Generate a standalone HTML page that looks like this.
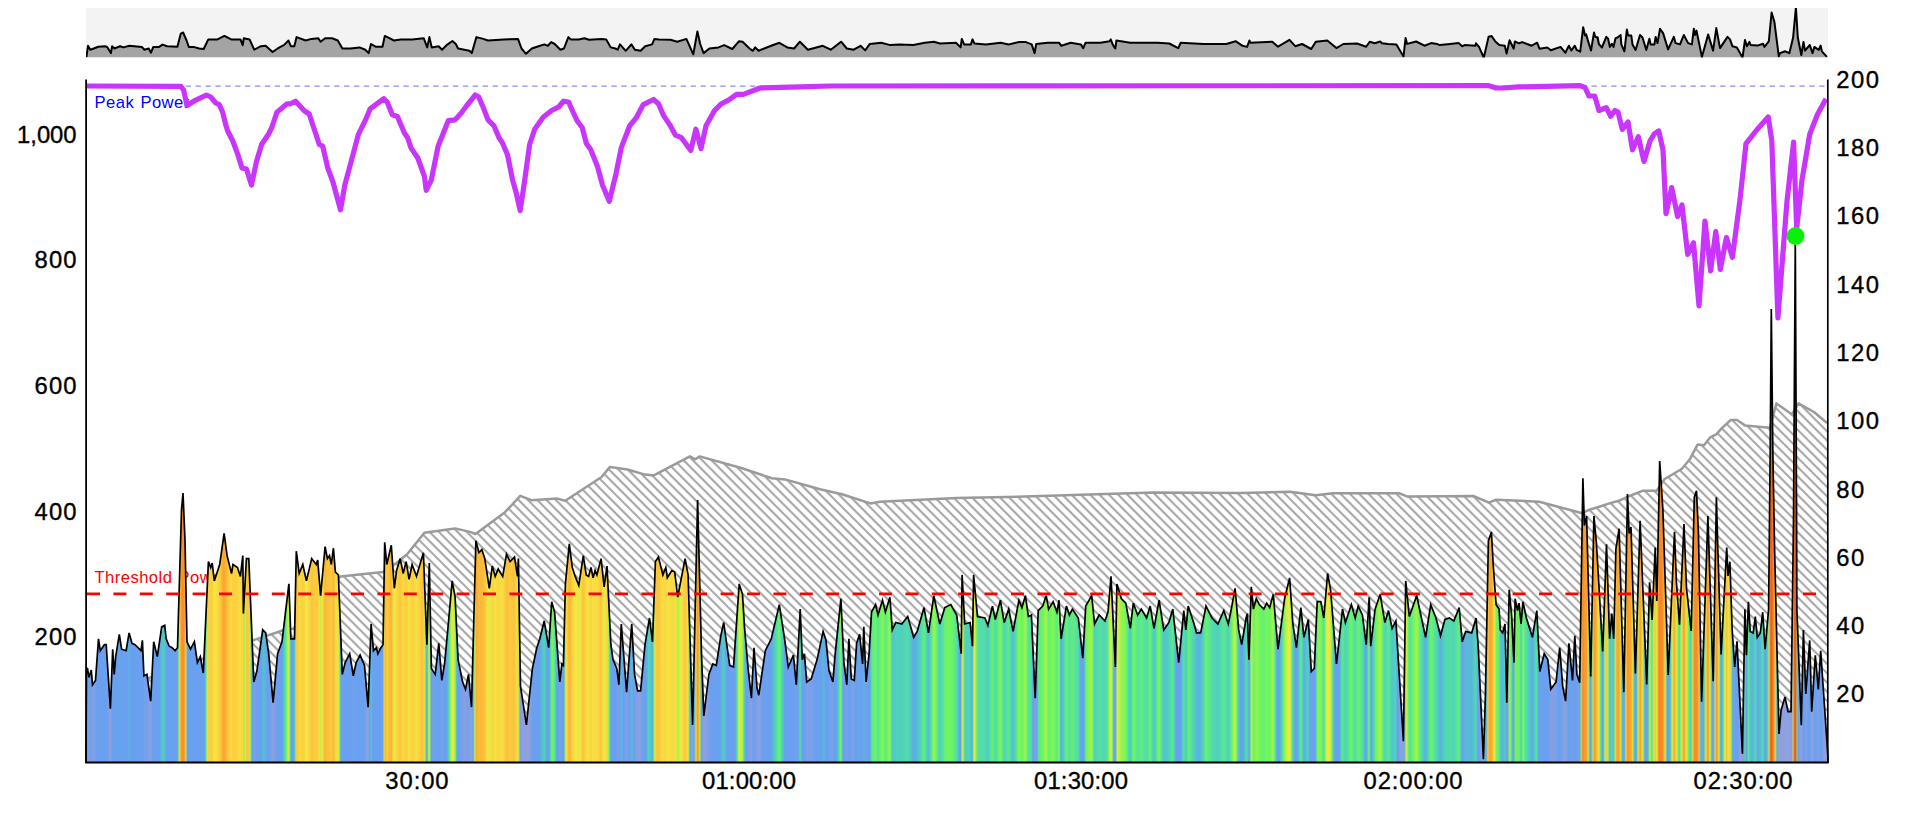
<!DOCTYPE html><html><head><meta charset="utf-8"><style>html,body{margin:0;padding:0;background:#fff;overflow:hidden}svg{display:block}text{font-family:"Liberation Sans",sans-serif}</style></head><body><svg width="1920" height="825" viewBox="0 0 1920 825">
<defs>
<linearGradient id="pg" gradientUnits="userSpaceOnUse" x1="86" y1="0" x2="1828" y2="0"><stop offset="0.0000" stop-color="#96a0d7"/><stop offset="0.0006" stop-color="#6ba0f0"/><stop offset="0.0011" stop-color="#70a0ee"/><stop offset="0.0017" stop-color="#77a0ea"/><stop offset="0.0023" stop-color="#73a0ec"/><stop offset="0.0029" stop-color="#6fa0ee"/><stop offset="0.0034" stop-color="#79a0ea"/><stop offset="0.0040" stop-color="#80a0e6"/><stop offset="0.0046" stop-color="#7ea0e7"/><stop offset="0.0052" stop-color="#7ca0e8"/><stop offset="0.0057" stop-color="#72a0ed"/><stop offset="0.0063" stop-color="#6aa0f0"/><stop offset="0.0069" stop-color="#69a0f0"/><stop offset="0.0075" stop-color="#68a0f0"/><stop offset="0.0080" stop-color="#69a0f0"/><stop offset="0.0086" stop-color="#69a0f0"/><stop offset="0.0092" stop-color="#69a0f0"/><stop offset="0.0098" stop-color="#69a0f0"/><stop offset="0.0103" stop-color="#69a0f0"/><stop offset="0.0109" stop-color="#69a0f0"/><stop offset="0.0115" stop-color="#69a0f0"/><stop offset="0.0121" stop-color="#6aa0f0"/><stop offset="0.0126" stop-color="#70a0ee"/><stop offset="0.0132" stop-color="#84a0e5"/><stop offset="0.0138" stop-color="#8da0e0"/><stop offset="0.0144" stop-color="#8ca0e1"/><stop offset="0.0149" stop-color="#6ba0f0"/><stop offset="0.0155" stop-color="#6aa0f0"/><stop offset="0.0161" stop-color="#6fa0ee"/><stop offset="0.0166" stop-color="#6ba0f0"/><stop offset="0.0172" stop-color="#6aa0f0"/><stop offset="0.0178" stop-color="#69a0f0"/><stop offset="0.0184" stop-color="#68a0f0"/><stop offset="0.0189" stop-color="#61abe5"/><stop offset="0.0195" stop-color="#66a3ed"/><stop offset="0.0201" stop-color="#69a0f0"/><stop offset="0.0207" stop-color="#69a0f0"/><stop offset="0.0212" stop-color="#69a0f0"/><stop offset="0.0218" stop-color="#69a0f0"/><stop offset="0.0224" stop-color="#69a0f0"/><stop offset="0.0230" stop-color="#69a0f0"/><stop offset="0.0235" stop-color="#69a0f0"/><stop offset="0.0241" stop-color="#68a1ef"/><stop offset="0.0247" stop-color="#5cb4dc"/><stop offset="0.0253" stop-color="#61abe5"/><stop offset="0.0258" stop-color="#68a0f0"/><stop offset="0.0264" stop-color="#68a0f0"/><stop offset="0.0270" stop-color="#68a0f0"/><stop offset="0.0276" stop-color="#68a0f0"/><stop offset="0.0281" stop-color="#69a0f0"/><stop offset="0.0287" stop-color="#69a0f0"/><stop offset="0.0293" stop-color="#69a0f0"/><stop offset="0.0299" stop-color="#69a0f0"/><stop offset="0.0304" stop-color="#69a0f0"/><stop offset="0.0310" stop-color="#69a0f0"/><stop offset="0.0316" stop-color="#69a0f0"/><stop offset="0.0321" stop-color="#68a0f0"/><stop offset="0.0327" stop-color="#6aa0f0"/><stop offset="0.0333" stop-color="#75a0eb"/><stop offset="0.0339" stop-color="#75a0ec"/><stop offset="0.0344" stop-color="#74a0ec"/><stop offset="0.0350" stop-color="#74a0ec"/><stop offset="0.0356" stop-color="#7ea0e8"/><stop offset="0.0362" stop-color="#87a0e3"/><stop offset="0.0367" stop-color="#8ca0e1"/><stop offset="0.0373" stop-color="#8ca0e1"/><stop offset="0.0379" stop-color="#75a0ec"/><stop offset="0.0385" stop-color="#6aa0f0"/><stop offset="0.0390" stop-color="#68a0f0"/><stop offset="0.0396" stop-color="#69a0f0"/><stop offset="0.0402" stop-color="#69a0f0"/><stop offset="0.0408" stop-color="#6aa0f0"/><stop offset="0.0413" stop-color="#69a0f0"/><stop offset="0.0419" stop-color="#69a0f0"/><stop offset="0.0425" stop-color="#66a4ec"/><stop offset="0.0431" stop-color="#59b9d7"/><stop offset="0.0436" stop-color="#50c9c7"/><stop offset="0.0442" stop-color="#50cac5"/><stop offset="0.0448" stop-color="#50cbc4"/><stop offset="0.0454" stop-color="#52c5cb"/><stop offset="0.0459" stop-color="#63a8e8"/><stop offset="0.0465" stop-color="#68a0f0"/><stop offset="0.0471" stop-color="#68a0f0"/><stop offset="0.0476" stop-color="#69a0f0"/><stop offset="0.0482" stop-color="#69a0f0"/><stop offset="0.0488" stop-color="#69a0f0"/><stop offset="0.0494" stop-color="#69a0f0"/><stop offset="0.0499" stop-color="#69a0f0"/><stop offset="0.0505" stop-color="#69a0f0"/><stop offset="0.0511" stop-color="#69a0f0"/><stop offset="0.0517" stop-color="#69a0f0"/><stop offset="0.0522" stop-color="#69a0f0"/><stop offset="0.0528" stop-color="#57bdd3"/><stop offset="0.0534" stop-color="#a7f24c"/><stop offset="0.0540" stop-color="#fcc93e"/><stop offset="0.0545" stop-color="#f8a12f"/><stop offset="0.0551" stop-color="#f8912b"/><stop offset="0.0557" stop-color="#f88a2a"/><stop offset="0.0563" stop-color="#f8992d"/><stop offset="0.0568" stop-color="#f8ab32"/><stop offset="0.0574" stop-color="#c5ef46"/><stop offset="0.0580" stop-color="#68a0f0"/><stop offset="0.0586" stop-color="#68a0f0"/><stop offset="0.0591" stop-color="#69a0f0"/><stop offset="0.0597" stop-color="#69a0f0"/><stop offset="0.0603" stop-color="#69a0f0"/><stop offset="0.0608" stop-color="#69a0f0"/><stop offset="0.0614" stop-color="#69a0f0"/><stop offset="0.0620" stop-color="#68a0f0"/><stop offset="0.0626" stop-color="#69a0f0"/><stop offset="0.0631" stop-color="#69a0f0"/><stop offset="0.0637" stop-color="#6aa0f0"/><stop offset="0.0643" stop-color="#6aa0f0"/><stop offset="0.0649" stop-color="#6aa0f0"/><stop offset="0.0654" stop-color="#6aa0f0"/><stop offset="0.0660" stop-color="#6aa0f0"/><stop offset="0.0666" stop-color="#6ba0f0"/><stop offset="0.0672" stop-color="#6fa0ee"/><stop offset="0.0677" stop-color="#6aa0f0"/><stop offset="0.0683" stop-color="#61ace4"/><stop offset="0.0689" stop-color="#55e39d"/><stop offset="0.0695" stop-color="#bff046"/><stop offset="0.0700" stop-color="#f9d841"/><stop offset="0.0706" stop-color="#fccc3f"/><stop offset="0.0712" stop-color="#fbd040"/><stop offset="0.0718" stop-color="#fbd140"/><stop offset="0.0723" stop-color="#fccc40"/><stop offset="0.0729" stop-color="#f9d741"/><stop offset="0.0735" stop-color="#f6e642"/><stop offset="0.0741" stop-color="#f5e642"/><stop offset="0.0746" stop-color="#f7e141"/><stop offset="0.0752" stop-color="#f8dc41"/><stop offset="0.0758" stop-color="#fad741"/><stop offset="0.0763" stop-color="#fbd140"/><stop offset="0.0769" stop-color="#fcca3f"/><stop offset="0.0775" stop-color="#fac03a"/><stop offset="0.0781" stop-color="#f9b536"/><stop offset="0.0786" stop-color="#f8ab32"/><stop offset="0.0792" stop-color="#f8a631"/><stop offset="0.0798" stop-color="#f8ab32"/><stop offset="0.0804" stop-color="#f9b435"/><stop offset="0.0809" stop-color="#fabf3a"/><stop offset="0.0815" stop-color="#fbc63d"/><stop offset="0.0821" stop-color="#fccc40"/><stop offset="0.0827" stop-color="#fbd340"/><stop offset="0.0832" stop-color="#f9da41"/><stop offset="0.0838" stop-color="#f9d841"/><stop offset="0.0844" stop-color="#fcce40"/><stop offset="0.0850" stop-color="#fccf40"/><stop offset="0.0855" stop-color="#fbd040"/><stop offset="0.0861" stop-color="#fbd140"/><stop offset="0.0867" stop-color="#fbd240"/><stop offset="0.0873" stop-color="#fad641"/><stop offset="0.0878" stop-color="#f8db41"/><stop offset="0.0884" stop-color="#f7e041"/><stop offset="0.0890" stop-color="#f9d941"/><stop offset="0.0896" stop-color="#fccb3f"/><stop offset="0.0901" stop-color="#f7e041"/><stop offset="0.0907" stop-color="#7ff558"/><stop offset="0.0913" stop-color="#e2eb43"/><stop offset="0.0918" stop-color="#fbd040"/><stop offset="0.0924" stop-color="#fbc53d"/><stop offset="0.0930" stop-color="#fbc53d"/><stop offset="0.0936" stop-color="#fccc40"/><stop offset="0.0941" stop-color="#d0ed45"/><stop offset="0.0947" stop-color="#59e595"/><stop offset="0.0953" stop-color="#64a7e9"/><stop offset="0.0959" stop-color="#6aa0f0"/><stop offset="0.0964" stop-color="#7ca0e8"/><stop offset="0.0970" stop-color="#78a0ea"/><stop offset="0.0976" stop-color="#73a0ec"/><stop offset="0.0982" stop-color="#6ea0ef"/><stop offset="0.0987" stop-color="#6aa0f0"/><stop offset="0.0993" stop-color="#6aa0f0"/><stop offset="0.0999" stop-color="#69a0f0"/><stop offset="0.1005" stop-color="#68a0f0"/><stop offset="0.1010" stop-color="#5fafe1"/><stop offset="0.1016" stop-color="#56bed2"/><stop offset="0.1022" stop-color="#58bbd5"/><stop offset="0.1028" stop-color="#5ab8d8"/><stop offset="0.1033" stop-color="#5fafe1"/><stop offset="0.1039" stop-color="#68a0f0"/><stop offset="0.1045" stop-color="#69a0f0"/><stop offset="0.1051" stop-color="#6aa0f0"/><stop offset="0.1056" stop-color="#6ba0f0"/><stop offset="0.1062" stop-color="#7aa0e9"/><stop offset="0.1068" stop-color="#88a0e3"/><stop offset="0.1073" stop-color="#8da0e0"/><stop offset="0.1079" stop-color="#8ca0e1"/><stop offset="0.1085" stop-color="#7da0e8"/><stop offset="0.1091" stop-color="#6fa0ee"/><stop offset="0.1096" stop-color="#6aa0f0"/><stop offset="0.1102" stop-color="#69a0f0"/><stop offset="0.1108" stop-color="#69a0f0"/><stop offset="0.1114" stop-color="#69a0f0"/><stop offset="0.1119" stop-color="#69a0f0"/><stop offset="0.1125" stop-color="#68a0f0"/><stop offset="0.1131" stop-color="#5cb4dc"/><stop offset="0.1137" stop-color="#51ccc2"/><stop offset="0.1142" stop-color="#53dea7"/><stop offset="0.1148" stop-color="#66ef73"/><stop offset="0.1154" stop-color="#90f453"/><stop offset="0.1160" stop-color="#c2ef46"/><stop offset="0.1165" stop-color="#d7ec44"/><stop offset="0.1171" stop-color="#55e39d"/><stop offset="0.1177" stop-color="#66a3ed"/><stop offset="0.1183" stop-color="#66a3ed"/><stop offset="0.1188" stop-color="#66a3ed"/><stop offset="0.1194" stop-color="#66a3ed"/><stop offset="0.1200" stop-color="#54e2a0"/><stop offset="0.1206" stop-color="#fbd040"/><stop offset="0.1211" stop-color="#fbc23b"/><stop offset="0.1217" stop-color="#fccd40"/><stop offset="0.1223" stop-color="#f8db41"/><stop offset="0.1228" stop-color="#f9da41"/><stop offset="0.1234" stop-color="#fad541"/><stop offset="0.1240" stop-color="#fbd140"/><stop offset="0.1246" stop-color="#fbcf40"/><stop offset="0.1251" stop-color="#f9d741"/><stop offset="0.1257" stop-color="#f7df41"/><stop offset="0.1263" stop-color="#f5e742"/><stop offset="0.1269" stop-color="#f6e642"/><stop offset="0.1274" stop-color="#f8de41"/><stop offset="0.1280" stop-color="#f9d741"/><stop offset="0.1286" stop-color="#fbd040"/><stop offset="0.1292" stop-color="#fcc93e"/><stop offset="0.1297" stop-color="#fbc53d"/><stop offset="0.1303" stop-color="#fbc73e"/><stop offset="0.1309" stop-color="#fcc93e"/><stop offset="0.1315" stop-color="#fccb3f"/><stop offset="0.1320" stop-color="#fccd40"/><stop offset="0.1326" stop-color="#fcca3f"/><stop offset="0.1332" stop-color="#fccd40"/><stop offset="0.1338" stop-color="#f7e242"/><stop offset="0.1343" stop-color="#d0ed45"/><stop offset="0.1349" stop-color="#c3ef46"/><stop offset="0.1355" stop-color="#f2e842"/><stop offset="0.1361" stop-color="#fad641"/><stop offset="0.1366" stop-color="#fbc53d"/><stop offset="0.1372" stop-color="#f9b536"/><stop offset="0.1378" stop-color="#faba38"/><stop offset="0.1383" stop-color="#fbc23b"/><stop offset="0.1389" stop-color="#fbc43c"/><stop offset="0.1395" stop-color="#fbc13b"/><stop offset="0.1401" stop-color="#fbc43c"/><stop offset="0.1406" stop-color="#fccb3f"/><stop offset="0.1412" stop-color="#fbc63d"/><stop offset="0.1418" stop-color="#faba38"/><stop offset="0.1424" stop-color="#fac03a"/><stop offset="0.1429" stop-color="#fbd240"/><stop offset="0.1435" stop-color="#f8dc41"/><stop offset="0.1441" stop-color="#f8dd41"/><stop offset="0.1447" stop-color="#f7df41"/><stop offset="0.1452" stop-color="#c7ef45"/><stop offset="0.1458" stop-color="#54dfa4"/><stop offset="0.1464" stop-color="#68a0f0"/><stop offset="0.1470" stop-color="#6ba0f0"/><stop offset="0.1475" stop-color="#70a0ee"/><stop offset="0.1481" stop-color="#6ba0f0"/><stop offset="0.1487" stop-color="#6ba0f0"/><stop offset="0.1493" stop-color="#6aa0f0"/><stop offset="0.1498" stop-color="#6aa0f0"/><stop offset="0.1504" stop-color="#6aa0f0"/><stop offset="0.1510" stop-color="#6aa0f0"/><stop offset="0.1515" stop-color="#6aa0f0"/><stop offset="0.1521" stop-color="#6aa0f0"/><stop offset="0.1527" stop-color="#6ba0f0"/><stop offset="0.1533" stop-color="#73a0ec"/><stop offset="0.1538" stop-color="#71a0ed"/><stop offset="0.1544" stop-color="#6ba0f0"/><stop offset="0.1550" stop-color="#6ba0f0"/><stop offset="0.1556" stop-color="#6aa0f0"/><stop offset="0.1561" stop-color="#6aa0f0"/><stop offset="0.1567" stop-color="#6aa0f0"/><stop offset="0.1573" stop-color="#6aa0f0"/><stop offset="0.1579" stop-color="#6aa0f0"/><stop offset="0.1584" stop-color="#6aa0f0"/><stop offset="0.1590" stop-color="#6aa0f0"/><stop offset="0.1596" stop-color="#6ba0f0"/><stop offset="0.1602" stop-color="#6fa0ee"/><stop offset="0.1607" stop-color="#7ea0e7"/><stop offset="0.1613" stop-color="#8ca0e1"/><stop offset="0.1619" stop-color="#8ea0df"/><stop offset="0.1625" stop-color="#7ea0e8"/><stop offset="0.1630" stop-color="#6aa0f0"/><stop offset="0.1636" stop-color="#50c9c7"/><stop offset="0.1642" stop-color="#5db2de"/><stop offset="0.1648" stop-color="#69a0f0"/><stop offset="0.1653" stop-color="#69a0f0"/><stop offset="0.1659" stop-color="#69a0f0"/><stop offset="0.1665" stop-color="#69a0f0"/><stop offset="0.1670" stop-color="#69a0f0"/><stop offset="0.1676" stop-color="#69a0f0"/><stop offset="0.1682" stop-color="#69a0f0"/><stop offset="0.1688" stop-color="#69a0f0"/><stop offset="0.1693" stop-color="#69a0f0"/><stop offset="0.1699" stop-color="#69a0f0"/><stop offset="0.1705" stop-color="#69a0f0"/><stop offset="0.1711" stop-color="#e1eb43"/><stop offset="0.1716" stop-color="#f9b134"/><stop offset="0.1722" stop-color="#fbc13b"/><stop offset="0.1728" stop-color="#fccc40"/><stop offset="0.1734" stop-color="#fbc63d"/><stop offset="0.1739" stop-color="#fac03a"/><stop offset="0.1745" stop-color="#fab938"/><stop offset="0.1751" stop-color="#f9b335"/><stop offset="0.1757" stop-color="#fac03a"/><stop offset="0.1762" stop-color="#fad741"/><stop offset="0.1768" stop-color="#e3eb43"/><stop offset="0.1774" stop-color="#e8ea43"/><stop offset="0.1780" stop-color="#f7e041"/><stop offset="0.1785" stop-color="#fad641"/><stop offset="0.1791" stop-color="#fbd040"/><stop offset="0.1797" stop-color="#fccb3f"/><stop offset="0.1803" stop-color="#fbc63d"/><stop offset="0.1808" stop-color="#fccb3f"/><stop offset="0.1814" stop-color="#fad340"/><stop offset="0.1820" stop-color="#f8db41"/><stop offset="0.1825" stop-color="#f9d841"/><stop offset="0.1831" stop-color="#fbd140"/><stop offset="0.1837" stop-color="#fcca3f"/><stop offset="0.1843" stop-color="#fbd240"/><stop offset="0.1848" stop-color="#f8dc41"/><stop offset="0.1854" stop-color="#f5e642"/><stop offset="0.1860" stop-color="#f7e041"/><stop offset="0.1866" stop-color="#f9d741"/><stop offset="0.1871" stop-color="#fccf40"/><stop offset="0.1877" stop-color="#fbd240"/><stop offset="0.1883" stop-color="#fad741"/><stop offset="0.1889" stop-color="#f8db41"/><stop offset="0.1894" stop-color="#f7e041"/><stop offset="0.1900" stop-color="#f7df41"/><stop offset="0.1906" stop-color="#f9d941"/><stop offset="0.1912" stop-color="#fad340"/><stop offset="0.1917" stop-color="#fccd40"/><stop offset="0.1923" stop-color="#fbc83e"/><stop offset="0.1929" stop-color="#fbc33c"/><stop offset="0.1935" stop-color="#fabe3a"/><stop offset="0.1940" stop-color="#fad541"/><stop offset="0.1946" stop-color="#aff14a"/><stop offset="0.1952" stop-color="#52d4b5"/><stop offset="0.1958" stop-color="#68a0f0"/><stop offset="0.1963" stop-color="#69f16c"/><stop offset="0.1969" stop-color="#f8dd41"/><stop offset="0.1975" stop-color="#9af350"/><stop offset="0.1980" stop-color="#69a0f0"/><stop offset="0.1986" stop-color="#6da0ef"/><stop offset="0.1992" stop-color="#6fa0ee"/><stop offset="0.1998" stop-color="#71a0ed"/><stop offset="0.2003" stop-color="#73a0ec"/><stop offset="0.2009" stop-color="#6ba0f0"/><stop offset="0.2015" stop-color="#6aa0f0"/><stop offset="0.2021" stop-color="#69a0f0"/><stop offset="0.2026" stop-color="#69a0f0"/><stop offset="0.2032" stop-color="#6aa0f0"/><stop offset="0.2038" stop-color="#6ea0ef"/><stop offset="0.2044" stop-color="#7aa0e9"/><stop offset="0.2049" stop-color="#72a0ed"/><stop offset="0.2055" stop-color="#6ba0f0"/><stop offset="0.2061" stop-color="#6aa0f0"/><stop offset="0.2067" stop-color="#69a0f0"/><stop offset="0.2072" stop-color="#65a5eb"/><stop offset="0.2078" stop-color="#50c7c9"/><stop offset="0.2084" stop-color="#53dea6"/><stop offset="0.2090" stop-color="#6ff65e"/><stop offset="0.2095" stop-color="#b3f149"/><stop offset="0.2101" stop-color="#e7ea43"/><stop offset="0.2107" stop-color="#ddec44"/><stop offset="0.2113" stop-color="#c4ef46"/><stop offset="0.2118" stop-color="#a4f24d"/><stop offset="0.2124" stop-color="#54dfa5"/><stop offset="0.2130" stop-color="#62a9e7"/><stop offset="0.2135" stop-color="#6aa0f0"/><stop offset="0.2141" stop-color="#6ba0f0"/><stop offset="0.2147" stop-color="#6ca0ef"/><stop offset="0.2153" stop-color="#73a0ec"/><stop offset="0.2158" stop-color="#79a0e9"/><stop offset="0.2164" stop-color="#7fa0e7"/><stop offset="0.2170" stop-color="#82a0e6"/><stop offset="0.2176" stop-color="#85a0e4"/><stop offset="0.2181" stop-color="#84a0e5"/><stop offset="0.2187" stop-color="#7da0e8"/><stop offset="0.2193" stop-color="#77a0eb"/><stop offset="0.2199" stop-color="#7ba0e9"/><stop offset="0.2204" stop-color="#89a0e2"/><stop offset="0.2210" stop-color="#8da0e0"/><stop offset="0.2216" stop-color="#85a0e4"/><stop offset="0.2222" stop-color="#69a0f0"/><stop offset="0.2227" stop-color="#59e693"/><stop offset="0.2233" stop-color="#f7df41"/><stop offset="0.2239" stop-color="#f8ab32"/><stop offset="0.2245" stop-color="#f9b134"/><stop offset="0.2250" stop-color="#f9b737"/><stop offset="0.2256" stop-color="#fabc39"/><stop offset="0.2262" stop-color="#faba38"/><stop offset="0.2268" stop-color="#fab937"/><stop offset="0.2273" stop-color="#f9b837"/><stop offset="0.2279" stop-color="#fabd39"/><stop offset="0.2285" stop-color="#fbc13b"/><stop offset="0.2290" stop-color="#fbc73d"/><stop offset="0.2296" stop-color="#fbd140"/><stop offset="0.2302" stop-color="#f8dd41"/><stop offset="0.2308" stop-color="#f5e842"/><stop offset="0.2313" stop-color="#d9ec44"/><stop offset="0.2319" stop-color="#e7ea43"/><stop offset="0.2325" stop-color="#f7e141"/><stop offset="0.2331" stop-color="#fad441"/><stop offset="0.2336" stop-color="#fad541"/><stop offset="0.2342" stop-color="#f8db41"/><stop offset="0.2348" stop-color="#f7e141"/><stop offset="0.2354" stop-color="#f7df41"/><stop offset="0.2359" stop-color="#f8db41"/><stop offset="0.2365" stop-color="#fad641"/><stop offset="0.2371" stop-color="#f9d841"/><stop offset="0.2377" stop-color="#f8db41"/><stop offset="0.2382" stop-color="#f8dd41"/><stop offset="0.2388" stop-color="#f7e041"/><stop offset="0.2394" stop-color="#f7df41"/><stop offset="0.2400" stop-color="#fad541"/><stop offset="0.2405" stop-color="#fccb3f"/><stop offset="0.2411" stop-color="#fbc33c"/><stop offset="0.2417" stop-color="#fac03a"/><stop offset="0.2423" stop-color="#fbc33c"/><stop offset="0.2428" stop-color="#fbc63d"/><stop offset="0.2434" stop-color="#fcc93e"/><stop offset="0.2440" stop-color="#fbc83e"/><stop offset="0.2445" stop-color="#fbc63d"/><stop offset="0.2451" stop-color="#fbc53d"/><stop offset="0.2457" stop-color="#fbc33c"/><stop offset="0.2463" stop-color="#fbc73e"/><stop offset="0.2468" stop-color="#fbd240"/><stop offset="0.2474" stop-color="#f8dd41"/><stop offset="0.2480" stop-color="#fbd140"/><stop offset="0.2486" stop-color="#adf14b"/><stop offset="0.2491" stop-color="#6aa0f0"/><stop offset="0.2497" stop-color="#87a0e3"/><stop offset="0.2503" stop-color="#8ca0e1"/><stop offset="0.2509" stop-color="#8da0e0"/><stop offset="0.2514" stop-color="#8ea0df"/><stop offset="0.2520" stop-color="#8fa0de"/><stop offset="0.2526" stop-color="#90a0dd"/><stop offset="0.2532" stop-color="#90a0dd"/><stop offset="0.2537" stop-color="#8ea0df"/><stop offset="0.2543" stop-color="#8da0e0"/><stop offset="0.2549" stop-color="#89a0e2"/><stop offset="0.2555" stop-color="#7da0e8"/><stop offset="0.2560" stop-color="#71a0ed"/><stop offset="0.2566" stop-color="#6ba0f0"/><stop offset="0.2572" stop-color="#6aa0f0"/><stop offset="0.2577" stop-color="#6aa0f0"/><stop offset="0.2583" stop-color="#69a0f0"/><stop offset="0.2589" stop-color="#69a0f0"/><stop offset="0.2595" stop-color="#68a0f0"/><stop offset="0.2600" stop-color="#68a0f0"/><stop offset="0.2606" stop-color="#65a5eb"/><stop offset="0.2612" stop-color="#5db2de"/><stop offset="0.2618" stop-color="#55bfd1"/><stop offset="0.2623" stop-color="#50cac4"/><stop offset="0.2629" stop-color="#52d3b7"/><stop offset="0.2635" stop-color="#50cbc4"/><stop offset="0.2641" stop-color="#59b9d7"/><stop offset="0.2646" stop-color="#64a6ea"/><stop offset="0.2652" stop-color="#68a0f0"/><stop offset="0.2658" stop-color="#68a0f0"/><stop offset="0.2664" stop-color="#51c6ca"/><stop offset="0.2669" stop-color="#5ae691"/><stop offset="0.2675" stop-color="#7ef558"/><stop offset="0.2681" stop-color="#6cf366"/><stop offset="0.2687" stop-color="#61ec80"/><stop offset="0.2692" stop-color="#53dcaa"/><stop offset="0.2698" stop-color="#57bcd4"/><stop offset="0.2704" stop-color="#68a0f0"/><stop offset="0.2710" stop-color="#6aa0f0"/><stop offset="0.2715" stop-color="#6fa0ee"/><stop offset="0.2721" stop-color="#7ba0e9"/><stop offset="0.2727" stop-color="#70a0ee"/><stop offset="0.2732" stop-color="#6ba0f0"/><stop offset="0.2738" stop-color="#6ba0f0"/><stop offset="0.2744" stop-color="#68a0f0"/><stop offset="0.2750" stop-color="#8ef454"/><stop offset="0.2755" stop-color="#f6e442"/><stop offset="0.2761" stop-color="#fad340"/><stop offset="0.2767" stop-color="#fbc33c"/><stop offset="0.2773" stop-color="#f9b335"/><stop offset="0.2778" stop-color="#f9b737"/><stop offset="0.2784" stop-color="#fbc33c"/><stop offset="0.2790" stop-color="#fccf40"/><stop offset="0.2796" stop-color="#fad741"/><stop offset="0.2801" stop-color="#f8dc41"/><stop offset="0.2807" stop-color="#f7e141"/><stop offset="0.2813" stop-color="#f6e642"/><stop offset="0.2819" stop-color="#f0e942"/><stop offset="0.2824" stop-color="#e6ea43"/><stop offset="0.2830" stop-color="#e3eb43"/><stop offset="0.2836" stop-color="#f6e442"/><stop offset="0.2842" stop-color="#f9d941"/><stop offset="0.2847" stop-color="#fccd40"/><stop offset="0.2853" stop-color="#fbc33c"/><stop offset="0.2859" stop-color="#fbc73e"/><stop offset="0.2865" stop-color="#fbd240"/><stop offset="0.2870" stop-color="#f8dd41"/><stop offset="0.2876" stop-color="#f7e041"/><stop offset="0.2882" stop-color="#f7e242"/><stop offset="0.2887" stop-color="#f7e041"/><stop offset="0.2893" stop-color="#f9d941"/><stop offset="0.2899" stop-color="#fad340"/><stop offset="0.2905" stop-color="#f8db41"/><stop offset="0.2910" stop-color="#f6e442"/><stop offset="0.2916" stop-color="#f7df41"/><stop offset="0.2922" stop-color="#f9d941"/><stop offset="0.2928" stop-color="#f8dc41"/><stop offset="0.2933" stop-color="#f7df41"/><stop offset="0.2939" stop-color="#f9d841"/><stop offset="0.2945" stop-color="#fbd240"/><stop offset="0.2951" stop-color="#fccb3f"/><stop offset="0.2956" stop-color="#fbc53d"/><stop offset="0.2962" stop-color="#fbd240"/><stop offset="0.2968" stop-color="#f6e242"/><stop offset="0.2974" stop-color="#dbec44"/><stop offset="0.2979" stop-color="#f3e842"/><stop offset="0.2985" stop-color="#f8dd41"/><stop offset="0.2991" stop-color="#fbd040"/><stop offset="0.2997" stop-color="#d9ec44"/><stop offset="0.3002" stop-color="#6cf366"/><stop offset="0.3008" stop-color="#50c9c6"/><stop offset="0.3014" stop-color="#69a0f0"/><stop offset="0.3020" stop-color="#69a0f0"/><stop offset="0.3025" stop-color="#6aa0f0"/><stop offset="0.3031" stop-color="#6aa0f0"/><stop offset="0.3037" stop-color="#6ba0f0"/><stop offset="0.3042" stop-color="#6ba0f0"/><stop offset="0.3048" stop-color="#6ea0ef"/><stop offset="0.3054" stop-color="#78a0ea"/><stop offset="0.3060" stop-color="#7ea0e8"/><stop offset="0.3065" stop-color="#6aa0f0"/><stop offset="0.3071" stop-color="#59bad6"/><stop offset="0.3077" stop-color="#5bb5db"/><stop offset="0.3083" stop-color="#69a0f0"/><stop offset="0.3088" stop-color="#6aa0f0"/><stop offset="0.3094" stop-color="#70a0ee"/><stop offset="0.3100" stop-color="#81a0e6"/><stop offset="0.3106" stop-color="#84a0e5"/><stop offset="0.3111" stop-color="#72a0ed"/><stop offset="0.3117" stop-color="#6aa0f0"/><stop offset="0.3123" stop-color="#69a0f0"/><stop offset="0.3129" stop-color="#5cb4dc"/><stop offset="0.3134" stop-color="#54c1cf"/><stop offset="0.3140" stop-color="#69a0f0"/><stop offset="0.3146" stop-color="#6ba0f0"/><stop offset="0.3152" stop-color="#76a0eb"/><stop offset="0.3157" stop-color="#7da0e8"/><stop offset="0.3163" stop-color="#85a0e4"/><stop offset="0.3169" stop-color="#89a0e2"/><stop offset="0.3175" stop-color="#89a0e2"/><stop offset="0.3180" stop-color="#89a0e2"/><stop offset="0.3186" stop-color="#83a0e5"/><stop offset="0.3192" stop-color="#76a0eb"/><stop offset="0.3197" stop-color="#6ba0f0"/><stop offset="0.3203" stop-color="#6aa0f0"/><stop offset="0.3209" stop-color="#69a0f0"/><stop offset="0.3215" stop-color="#66a3ed"/><stop offset="0.3220" stop-color="#5bb6da"/><stop offset="0.3226" stop-color="#50c8c8"/><stop offset="0.3232" stop-color="#52d5b5"/><stop offset="0.3238" stop-color="#52d2b8"/><stop offset="0.3243" stop-color="#55bfd1"/><stop offset="0.3249" stop-color="#65a6ea"/><stop offset="0.3255" stop-color="#52c5cb"/><stop offset="0.3261" stop-color="#8df454"/><stop offset="0.3266" stop-color="#f8dc41"/><stop offset="0.3272" stop-color="#fbc83e"/><stop offset="0.3278" stop-color="#fbc63d"/><stop offset="0.3284" stop-color="#fbc33c"/><stop offset="0.3289" stop-color="#fbc63d"/><stop offset="0.3295" stop-color="#fccc40"/><stop offset="0.3301" stop-color="#fbd340"/><stop offset="0.3307" stop-color="#f9d941"/><stop offset="0.3312" stop-color="#f7df41"/><stop offset="0.3318" stop-color="#f8db41"/><stop offset="0.3324" stop-color="#fad641"/><stop offset="0.3330" stop-color="#fad541"/><stop offset="0.3335" stop-color="#f7e141"/><stop offset="0.3341" stop-color="#f6e342"/><stop offset="0.3347" stop-color="#f7e041"/><stop offset="0.3352" stop-color="#f8dd41"/><stop offset="0.3358" stop-color="#f9da41"/><stop offset="0.3364" stop-color="#f9d841"/><stop offset="0.3370" stop-color="#f9d941"/><stop offset="0.3375" stop-color="#f9da41"/><stop offset="0.3381" stop-color="#f7df41"/><stop offset="0.3387" stop-color="#e7ea43"/><stop offset="0.3393" stop-color="#c3ef46"/><stop offset="0.3398" stop-color="#aaf24c"/><stop offset="0.3404" stop-color="#c7ef45"/><stop offset="0.3410" stop-color="#ddeb44"/><stop offset="0.3416" stop-color="#f4e842"/><stop offset="0.3421" stop-color="#f7df41"/><stop offset="0.3427" stop-color="#fad641"/><stop offset="0.3433" stop-color="#fccd40"/><stop offset="0.3439" stop-color="#fbc63d"/><stop offset="0.3444" stop-color="#fccc40"/><stop offset="0.3450" stop-color="#fad541"/><stop offset="0.3456" stop-color="#f7df41"/><stop offset="0.3462" stop-color="#71f65c"/><stop offset="0.3467" stop-color="#65a4ec"/><stop offset="0.3473" stop-color="#70a0ee"/><stop offset="0.3479" stop-color="#8ea0df"/><stop offset="0.3485" stop-color="#8ea0df"/><stop offset="0.3490" stop-color="#6aa0f0"/><stop offset="0.3496" stop-color="#53dda8"/><stop offset="0.3502" stop-color="#f8db41"/><stop offset="0.3507" stop-color="#f8a12f"/><stop offset="0.3513" stop-color="#f8992d"/><stop offset="0.3519" stop-color="#fac03a"/><stop offset="0.3525" stop-color="#b0f14a"/><stop offset="0.3530" stop-color="#5db2de"/><stop offset="0.3536" stop-color="#6ba0f0"/><stop offset="0.3542" stop-color="#8ca0e1"/><stop offset="0.3548" stop-color="#8fa0de"/><stop offset="0.3553" stop-color="#8ea0df"/><stop offset="0.3559" stop-color="#8da0e0"/><stop offset="0.3565" stop-color="#88a0e3"/><stop offset="0.3571" stop-color="#7da0e8"/><stop offset="0.3576" stop-color="#73a0ec"/><stop offset="0.3582" stop-color="#70a0ee"/><stop offset="0.3588" stop-color="#6ca0f0"/><stop offset="0.3594" stop-color="#6ba0f0"/><stop offset="0.3599" stop-color="#6ba0f0"/><stop offset="0.3605" stop-color="#6ba0f0"/><stop offset="0.3611" stop-color="#6ba0f0"/><stop offset="0.3617" stop-color="#6ba0f0"/><stop offset="0.3622" stop-color="#6aa0f0"/><stop offset="0.3628" stop-color="#6aa0f0"/><stop offset="0.3634" stop-color="#69a0f0"/><stop offset="0.3639" stop-color="#68a0f0"/><stop offset="0.3645" stop-color="#5fafe1"/><stop offset="0.3651" stop-color="#56bed2"/><stop offset="0.3657" stop-color="#50cbc4"/><stop offset="0.3662" stop-color="#51cdc0"/><stop offset="0.3668" stop-color="#59b9d7"/><stop offset="0.3674" stop-color="#67a2ee"/><stop offset="0.3680" stop-color="#69a0f0"/><stop offset="0.3685" stop-color="#69a0f0"/><stop offset="0.3691" stop-color="#6aa0f0"/><stop offset="0.3697" stop-color="#6ba0f0"/><stop offset="0.3703" stop-color="#6ba0f0"/><stop offset="0.3708" stop-color="#6ba0f0"/><stop offset="0.3714" stop-color="#6ba0f0"/><stop offset="0.3720" stop-color="#6aa0f0"/><stop offset="0.3726" stop-color="#69a0f0"/><stop offset="0.3731" stop-color="#57bdd3"/><stop offset="0.3737" stop-color="#54dfa5"/><stop offset="0.3743" stop-color="#86f456"/><stop offset="0.3749" stop-color="#d6ec44"/><stop offset="0.3754" stop-color="#d8ec44"/><stop offset="0.3760" stop-color="#caee45"/><stop offset="0.3766" stop-color="#bcf047"/><stop offset="0.3772" stop-color="#80f558"/><stop offset="0.3777" stop-color="#53d9ae"/><stop offset="0.3783" stop-color="#5bb6da"/><stop offset="0.3789" stop-color="#68a0f0"/><stop offset="0.3794" stop-color="#6aa0f0"/><stop offset="0.3800" stop-color="#6ba0f0"/><stop offset="0.3806" stop-color="#77a0eb"/><stop offset="0.3812" stop-color="#82a0e5"/><stop offset="0.3817" stop-color="#8ca0e1"/><stop offset="0.3823" stop-color="#83a0e5"/><stop offset="0.3829" stop-color="#6ba0f0"/><stop offset="0.3835" stop-color="#69a0f0"/><stop offset="0.3840" stop-color="#6aa0f0"/><stop offset="0.3846" stop-color="#73a0ec"/><stop offset="0.3852" stop-color="#85a0e4"/><stop offset="0.3858" stop-color="#8aa0e2"/><stop offset="0.3863" stop-color="#8ca0e1"/><stop offset="0.3869" stop-color="#84a0e5"/><stop offset="0.3875" stop-color="#7ba0e9"/><stop offset="0.3881" stop-color="#72a0ed"/><stop offset="0.3886" stop-color="#6ba0f0"/><stop offset="0.3892" stop-color="#6aa0f0"/><stop offset="0.3898" stop-color="#69a0f0"/><stop offset="0.3904" stop-color="#69a0f0"/><stop offset="0.3909" stop-color="#69a0f0"/><stop offset="0.3915" stop-color="#69a0f0"/><stop offset="0.3921" stop-color="#68a0f0"/><stop offset="0.3927" stop-color="#68a0f0"/><stop offset="0.3932" stop-color="#68a1ef"/><stop offset="0.3938" stop-color="#61ace4"/><stop offset="0.3944" stop-color="#59bad6"/><stop offset="0.3949" stop-color="#50c7c9"/><stop offset="0.3955" stop-color="#51d0bb"/><stop offset="0.3961" stop-color="#53d9ae"/><stop offset="0.3967" stop-color="#54e2a0"/><stop offset="0.3972" stop-color="#61eb81"/><stop offset="0.3978" stop-color="#6df462"/><stop offset="0.3984" stop-color="#64ed7a"/><stop offset="0.3990" stop-color="#54e0a4"/><stop offset="0.3995" stop-color="#52d2b8"/><stop offset="0.4001" stop-color="#53c3cd"/><stop offset="0.4007" stop-color="#5fafe1"/><stop offset="0.4013" stop-color="#68a0f0"/><stop offset="0.4018" stop-color="#69a0f0"/><stop offset="0.4024" stop-color="#6aa0f0"/><stop offset="0.4030" stop-color="#6ba0f0"/><stop offset="0.4036" stop-color="#6ba0f0"/><stop offset="0.4041" stop-color="#6aa0f0"/><stop offset="0.4047" stop-color="#6aa0f0"/><stop offset="0.4053" stop-color="#6aa0f0"/><stop offset="0.4059" stop-color="#6aa0f0"/><stop offset="0.4064" stop-color="#6aa0f0"/><stop offset="0.4070" stop-color="#70a0ee"/><stop offset="0.4076" stop-color="#7da0e8"/><stop offset="0.4082" stop-color="#6fa0ee"/><stop offset="0.4087" stop-color="#69a0f0"/><stop offset="0.4093" stop-color="#5ab7d9"/><stop offset="0.4099" stop-color="#58e595"/><stop offset="0.4104" stop-color="#52c4cc"/><stop offset="0.4110" stop-color="#69a0f0"/><stop offset="0.4116" stop-color="#6aa0f0"/><stop offset="0.4122" stop-color="#6aa0f0"/><stop offset="0.4127" stop-color="#6aa0f0"/><stop offset="0.4133" stop-color="#72a0ed"/><stop offset="0.4139" stop-color="#7da0e8"/><stop offset="0.4145" stop-color="#7ca0e8"/><stop offset="0.4150" stop-color="#7ba0e9"/><stop offset="0.4156" stop-color="#7aa0e9"/><stop offset="0.4162" stop-color="#79a0e9"/><stop offset="0.4168" stop-color="#76a0eb"/><stop offset="0.4173" stop-color="#72a0ed"/><stop offset="0.4179" stop-color="#6da0ef"/><stop offset="0.4185" stop-color="#6ba0f0"/><stop offset="0.4191" stop-color="#6aa0f0"/><stop offset="0.4196" stop-color="#6aa0f0"/><stop offset="0.4202" stop-color="#6aa0f0"/><stop offset="0.4208" stop-color="#69a0f0"/><stop offset="0.4214" stop-color="#69a0f0"/><stop offset="0.4219" stop-color="#68a0f0"/><stop offset="0.4225" stop-color="#62aae6"/><stop offset="0.4231" stop-color="#59b9d7"/><stop offset="0.4237" stop-color="#5eb1df"/><stop offset="0.4242" stop-color="#63a8e8"/><stop offset="0.4248" stop-color="#68a0f0"/><stop offset="0.4254" stop-color="#69a0f0"/><stop offset="0.4259" stop-color="#6aa0f0"/><stop offset="0.4265" stop-color="#6ea0ef"/><stop offset="0.4271" stop-color="#72a0ed"/><stop offset="0.4277" stop-color="#76a0eb"/><stop offset="0.4282" stop-color="#7aa0e9"/><stop offset="0.4288" stop-color="#7ca0e8"/><stop offset="0.4294" stop-color="#6ba0f0"/><stop offset="0.4300" stop-color="#6aa0f0"/><stop offset="0.4305" stop-color="#69a0f0"/><stop offset="0.4311" stop-color="#62abe5"/><stop offset="0.4317" stop-color="#50c9c7"/><stop offset="0.4323" stop-color="#53dda8"/><stop offset="0.4328" stop-color="#69f16d"/><stop offset="0.4334" stop-color="#8af455"/><stop offset="0.4340" stop-color="#52d2b8"/><stop offset="0.4346" stop-color="#68a0f0"/><stop offset="0.4351" stop-color="#6ba0f0"/><stop offset="0.4357" stop-color="#6fa0ee"/><stop offset="0.4363" stop-color="#79a0ea"/><stop offset="0.4369" stop-color="#7ba0e9"/><stop offset="0.4374" stop-color="#6aa0f0"/><stop offset="0.4380" stop-color="#68a0f0"/><stop offset="0.4386" stop-color="#6aa0f0"/><stop offset="0.4392" stop-color="#73a0ec"/><stop offset="0.4397" stop-color="#7aa0e9"/><stop offset="0.4403" stop-color="#7aa0e9"/><stop offset="0.4409" stop-color="#7ba0e9"/><stop offset="0.4414" stop-color="#6ca0ef"/><stop offset="0.4420" stop-color="#69a0f0"/><stop offset="0.4426" stop-color="#68a0f0"/><stop offset="0.4432" stop-color="#67a2ee"/><stop offset="0.4437" stop-color="#61abe5"/><stop offset="0.4443" stop-color="#65a4ec"/><stop offset="0.4449" stop-color="#69a0f0"/><stop offset="0.4455" stop-color="#6aa0f0"/><stop offset="0.4460" stop-color="#69a0f0"/><stop offset="0.4466" stop-color="#59b9d7"/><stop offset="0.4472" stop-color="#6aa0f0"/><stop offset="0.4478" stop-color="#7aa0e9"/><stop offset="0.4483" stop-color="#72a0ed"/><stop offset="0.4489" stop-color="#6ba0f0"/><stop offset="0.4495" stop-color="#6aa0f0"/><stop offset="0.4501" stop-color="#65a5eb"/><stop offset="0.4506" stop-color="#52d5b4"/><stop offset="0.4512" stop-color="#5ee989"/><stop offset="0.4518" stop-color="#63ed7b"/><stop offset="0.4524" stop-color="#69f16e"/><stop offset="0.4529" stop-color="#6ef561"/><stop offset="0.4535" stop-color="#6cf366"/><stop offset="0.4541" stop-color="#5fea85"/><stop offset="0.4546" stop-color="#54e1a2"/><stop offset="0.4552" stop-color="#5ce88c"/><stop offset="0.4558" stop-color="#66ef75"/><stop offset="0.4564" stop-color="#70f65d"/><stop offset="0.4569" stop-color="#84f456"/><stop offset="0.4575" stop-color="#81f557"/><stop offset="0.4581" stop-color="#6cf366"/><stop offset="0.4587" stop-color="#60ea83"/><stop offset="0.4592" stop-color="#61eb81"/><stop offset="0.4598" stop-color="#6bf269"/><stop offset="0.4604" stop-color="#79f559"/><stop offset="0.4610" stop-color="#8ef454"/><stop offset="0.4615" stop-color="#98f351"/><stop offset="0.4621" stop-color="#5be790"/><stop offset="0.4627" stop-color="#50cbc4"/><stop offset="0.4633" stop-color="#53c4cc"/><stop offset="0.4638" stop-color="#50cac6"/><stop offset="0.4644" stop-color="#51cebf"/><stop offset="0.4650" stop-color="#51d1ba"/><stop offset="0.4656" stop-color="#51d1bb"/><stop offset="0.4661" stop-color="#51d0bb"/><stop offset="0.4667" stop-color="#51d0bc"/><stop offset="0.4673" stop-color="#51cfbd"/><stop offset="0.4679" stop-color="#51cfbe"/><stop offset="0.4684" stop-color="#51cfbe"/><stop offset="0.4690" stop-color="#51d1b9"/><stop offset="0.4696" stop-color="#52d4b5"/><stop offset="0.4701" stop-color="#52d7b1"/><stop offset="0.4707" stop-color="#53d9ad"/><stop offset="0.4713" stop-color="#53dca9"/><stop offset="0.4719" stop-color="#53dcaa"/><stop offset="0.4724" stop-color="#52d4b5"/><stop offset="0.4730" stop-color="#51cdc0"/><stop offset="0.4736" stop-color="#52c5cb"/><stop offset="0.4742" stop-color="#58bad6"/><stop offset="0.4747" stop-color="#5fafe1"/><stop offset="0.4753" stop-color="#63a9e7"/><stop offset="0.4759" stop-color="#5faee2"/><stop offset="0.4765" stop-color="#5cb4dc"/><stop offset="0.4770" stop-color="#59b9d7"/><stop offset="0.4776" stop-color="#53c3cd"/><stop offset="0.4782" stop-color="#51ccc2"/><stop offset="0.4788" stop-color="#52d3b7"/><stop offset="0.4793" stop-color="#53daac"/><stop offset="0.4799" stop-color="#54e2a0"/><stop offset="0.4805" stop-color="#5ee988"/><stop offset="0.4811" stop-color="#68f06f"/><stop offset="0.4816" stop-color="#58e597"/><stop offset="0.4822" stop-color="#53d9ae"/><stop offset="0.4828" stop-color="#51cdc0"/><stop offset="0.4834" stop-color="#56bed2"/><stop offset="0.4839" stop-color="#54c1cf"/><stop offset="0.4845" stop-color="#51d2b9"/><stop offset="0.4851" stop-color="#54e0a3"/><stop offset="0.4856" stop-color="#66ef74"/><stop offset="0.4862" stop-color="#87f456"/><stop offset="0.4868" stop-color="#a4f24d"/><stop offset="0.4874" stop-color="#87f456"/><stop offset="0.4879" stop-color="#6df464"/><stop offset="0.4885" stop-color="#5fea86"/><stop offset="0.4891" stop-color="#54e0a3"/><stop offset="0.4897" stop-color="#52d6b2"/><stop offset="0.4902" stop-color="#51d0bc"/><stop offset="0.4908" stop-color="#52d6b2"/><stop offset="0.4914" stop-color="#53dda7"/><stop offset="0.4920" stop-color="#57e499"/><stop offset="0.4925" stop-color="#61eb82"/><stop offset="0.4931" stop-color="#69f16e"/><stop offset="0.4937" stop-color="#6af26a"/><stop offset="0.4943" stop-color="#6cf367"/><stop offset="0.4948" stop-color="#6df463"/><stop offset="0.4954" stop-color="#6ff560"/><stop offset="0.4960" stop-color="#70f65c"/><stop offset="0.4966" stop-color="#70f65c"/><stop offset="0.4971" stop-color="#6bf268"/><stop offset="0.4977" stop-color="#66ef75"/><stop offset="0.4983" stop-color="#60eb82"/><stop offset="0.4989" stop-color="#5be78e"/><stop offset="0.4994" stop-color="#56e39b"/><stop offset="0.5000" stop-color="#53dcaa"/><stop offset="0.5006" stop-color="#50cac5"/><stop offset="0.5011" stop-color="#5fafe1"/><stop offset="0.5017" stop-color="#68a0f0"/><stop offset="0.5023" stop-color="#69a0f0"/><stop offset="0.5029" stop-color="#e4ea43"/><stop offset="0.5034" stop-color="#c0f046"/><stop offset="0.5040" stop-color="#5fea86"/><stop offset="0.5046" stop-color="#51cebe"/><stop offset="0.5052" stop-color="#51cfbd"/><stop offset="0.5057" stop-color="#51d0bc"/><stop offset="0.5063" stop-color="#51d0bb"/><stop offset="0.5069" stop-color="#51d1bb"/><stop offset="0.5075" stop-color="#51d1ba"/><stop offset="0.5080" stop-color="#58bad6"/><stop offset="0.5086" stop-color="#68a0f0"/><stop offset="0.5092" stop-color="#56e39b"/><stop offset="0.5098" stop-color="#f5e742"/><stop offset="0.5103" stop-color="#c9ee45"/><stop offset="0.5109" stop-color="#8cf454"/><stop offset="0.5115" stop-color="#5ee988"/><stop offset="0.5121" stop-color="#53dea7"/><stop offset="0.5126" stop-color="#53dda7"/><stop offset="0.5132" stop-color="#53dda8"/><stop offset="0.5138" stop-color="#53dca9"/><stop offset="0.5144" stop-color="#53dca9"/><stop offset="0.5149" stop-color="#53dbaa"/><stop offset="0.5155" stop-color="#53dbab"/><stop offset="0.5161" stop-color="#53daac"/><stop offset="0.5166" stop-color="#52d5b4"/><stop offset="0.5172" stop-color="#51d0bc"/><stop offset="0.5178" stop-color="#51ccc1"/><stop offset="0.5184" stop-color="#52d5b4"/><stop offset="0.5189" stop-color="#53dea6"/><stop offset="0.5195" stop-color="#5be78f"/><stop offset="0.5201" stop-color="#68f070"/><stop offset="0.5207" stop-color="#65ee78"/><stop offset="0.5212" stop-color="#57e499"/><stop offset="0.5218" stop-color="#53daac"/><stop offset="0.5224" stop-color="#53dda8"/><stop offset="0.5230" stop-color="#58e596"/><stop offset="0.5235" stop-color="#63ed7b"/><stop offset="0.5241" stop-color="#6ff560"/><stop offset="0.5247" stop-color="#84f456"/><stop offset="0.5253" stop-color="#78f55a"/><stop offset="0.5258" stop-color="#62ec7d"/><stop offset="0.5264" stop-color="#54e0a3"/><stop offset="0.5270" stop-color="#52d4b6"/><stop offset="0.5276" stop-color="#52d6b2"/><stop offset="0.5281" stop-color="#53dca9"/><stop offset="0.5287" stop-color="#55e39e"/><stop offset="0.5293" stop-color="#5ee989"/><stop offset="0.5299" stop-color="#5fea84"/><stop offset="0.5304" stop-color="#54dfa4"/><stop offset="0.5310" stop-color="#52d5b4"/><stop offset="0.5316" stop-color="#50cbc4"/><stop offset="0.5321" stop-color="#57bcd4"/><stop offset="0.5327" stop-color="#50c9c6"/><stop offset="0.5333" stop-color="#52d4b5"/><stop offset="0.5339" stop-color="#54dfa4"/><stop offset="0.5344" stop-color="#60eb83"/><stop offset="0.5350" stop-color="#70f65c"/><stop offset="0.5356" stop-color="#8cf454"/><stop offset="0.5362" stop-color="#7df558"/><stop offset="0.5367" stop-color="#6ff55f"/><stop offset="0.5373" stop-color="#69f16c"/><stop offset="0.5379" stop-color="#77f55a"/><stop offset="0.5385" stop-color="#8cf454"/><stop offset="0.5390" stop-color="#a1f24e"/><stop offset="0.5396" stop-color="#90f453"/><stop offset="0.5402" stop-color="#6bf269"/><stop offset="0.5408" stop-color="#56e49b"/><stop offset="0.5413" stop-color="#53dea6"/><stop offset="0.5419" stop-color="#54dfa4"/><stop offset="0.5425" stop-color="#54e0a2"/><stop offset="0.5431" stop-color="#52c5cb"/><stop offset="0.5436" stop-color="#69a0f0"/><stop offset="0.5442" stop-color="#70a0ee"/><stop offset="0.5448" stop-color="#8ca0e1"/><stop offset="0.5454" stop-color="#74a0ec"/><stop offset="0.5459" stop-color="#69a0f0"/><stop offset="0.5465" stop-color="#53dea6"/><stop offset="0.5471" stop-color="#62ec7f"/><stop offset="0.5476" stop-color="#65ee77"/><stop offset="0.5482" stop-color="#68f070"/><stop offset="0.5488" stop-color="#6bf269"/><stop offset="0.5494" stop-color="#6ff65e"/><stop offset="0.5499" stop-color="#81f557"/><stop offset="0.5505" stop-color="#93f352"/><stop offset="0.5511" stop-color="#a6f24d"/><stop offset="0.5517" stop-color="#8ef454"/><stop offset="0.5522" stop-color="#6ef461"/><stop offset="0.5528" stop-color="#66ef75"/><stop offset="0.5534" stop-color="#6bf269"/><stop offset="0.5540" stop-color="#70f65d"/><stop offset="0.5545" stop-color="#79f559"/><stop offset="0.5551" stop-color="#83f557"/><stop offset="0.5557" stop-color="#75f65b"/><stop offset="0.5563" stop-color="#6af26a"/><stop offset="0.5568" stop-color="#62ec7d"/><stop offset="0.5574" stop-color="#5de88b"/><stop offset="0.5580" stop-color="#6df462"/><stop offset="0.5586" stop-color="#8ef454"/><stop offset="0.5591" stop-color="#53d9ad"/><stop offset="0.5597" stop-color="#63a9e7"/><stop offset="0.5603" stop-color="#5cb4dc"/><stop offset="0.5608" stop-color="#50c8c8"/><stop offset="0.5614" stop-color="#52d5b5"/><stop offset="0.5620" stop-color="#54e1a1"/><stop offset="0.5626" stop-color="#65ee76"/><stop offset="0.5631" stop-color="#67f071"/><stop offset="0.5637" stop-color="#5fea86"/><stop offset="0.5643" stop-color="#56e39b"/><stop offset="0.5649" stop-color="#56e39b"/><stop offset="0.5654" stop-color="#5ce78d"/><stop offset="0.5660" stop-color="#62ec7f"/><stop offset="0.5666" stop-color="#61eb80"/><stop offset="0.5672" stop-color="#5de88b"/><stop offset="0.5677" stop-color="#58e596"/><stop offset="0.5683" stop-color="#54e2a0"/><stop offset="0.5689" stop-color="#53dfa5"/><stop offset="0.5695" stop-color="#53dcaa"/><stop offset="0.5700" stop-color="#51cebf"/><stop offset="0.5706" stop-color="#5cb5db"/><stop offset="0.5712" stop-color="#68a0f0"/><stop offset="0.5718" stop-color="#69a0f0"/><stop offset="0.5723" stop-color="#6aa0f0"/><stop offset="0.5729" stop-color="#62aae6"/><stop offset="0.5735" stop-color="#53d9ad"/><stop offset="0.5741" stop-color="#6ef560"/><stop offset="0.5746" stop-color="#77f55a"/><stop offset="0.5752" stop-color="#82f557"/><stop offset="0.5758" stop-color="#8df454"/><stop offset="0.5763" stop-color="#97f351"/><stop offset="0.5769" stop-color="#a2f24e"/><stop offset="0.5775" stop-color="#97f351"/><stop offset="0.5781" stop-color="#66ef74"/><stop offset="0.5786" stop-color="#53daac"/><stop offset="0.5792" stop-color="#51d0bc"/><stop offset="0.5798" stop-color="#52d4b5"/><stop offset="0.5804" stop-color="#52d8af"/><stop offset="0.5809" stop-color="#53dca9"/><stop offset="0.5815" stop-color="#54e0a2"/><stop offset="0.5821" stop-color="#54dfa5"/><stop offset="0.5827" stop-color="#53dda8"/><stop offset="0.5832" stop-color="#53dbab"/><stop offset="0.5838" stop-color="#53d9ae"/><stop offset="0.5844" stop-color="#52d7b2"/><stop offset="0.5850" stop-color="#52d4b5"/><stop offset="0.5855" stop-color="#53dbab"/><stop offset="0.5861" stop-color="#54e1a2"/><stop offset="0.5867" stop-color="#5be78f"/><stop offset="0.5873" stop-color="#8ef454"/><stop offset="0.5878" stop-color="#d0ed45"/><stop offset="0.5884" stop-color="#f7e242"/><stop offset="0.5890" stop-color="#a2f24e"/><stop offset="0.5896" stop-color="#53dcaa"/><stop offset="0.5901" stop-color="#65a5eb"/><stop offset="0.5907" stop-color="#6aa0f0"/><stop offset="0.5913" stop-color="#5db3dd"/><stop offset="0.5918" stop-color="#e2eb43"/><stop offset="0.5924" stop-color="#d3ed44"/><stop offset="0.5930" stop-color="#c5ef45"/><stop offset="0.5936" stop-color="#b4f149"/><stop offset="0.5941" stop-color="#9ff24f"/><stop offset="0.5947" stop-color="#93f352"/><stop offset="0.5953" stop-color="#8df454"/><stop offset="0.5959" stop-color="#87f456"/><stop offset="0.5964" stop-color="#80f557"/><stop offset="0.5970" stop-color="#74f65b"/><stop offset="0.5976" stop-color="#61ec7f"/><stop offset="0.5982" stop-color="#54e0a3"/><stop offset="0.5987" stop-color="#52d4b5"/><stop offset="0.5993" stop-color="#50c9c7"/><stop offset="0.5999" stop-color="#51d1ba"/><stop offset="0.6005" stop-color="#55e39e"/><stop offset="0.6010" stop-color="#6ef461"/><stop offset="0.6016" stop-color="#70f65d"/><stop offset="0.6022" stop-color="#68f070"/><stop offset="0.6028" stop-color="#60ea83"/><stop offset="0.6033" stop-color="#58e596"/><stop offset="0.6039" stop-color="#54e2a0"/><stop offset="0.6045" stop-color="#59e595"/><stop offset="0.6051" stop-color="#5ee989"/><stop offset="0.6056" stop-color="#62ec7d"/><stop offset="0.6062" stop-color="#60eb82"/><stop offset="0.6068" stop-color="#5be78e"/><stop offset="0.6073" stop-color="#56e49a"/><stop offset="0.6079" stop-color="#54e0a3"/><stop offset="0.6085" stop-color="#53dda8"/><stop offset="0.6091" stop-color="#53dda7"/><stop offset="0.6096" stop-color="#57e498"/><stop offset="0.6102" stop-color="#61eb80"/><stop offset="0.6108" stop-color="#6bf269"/><stop offset="0.6114" stop-color="#5fea86"/><stop offset="0.6119" stop-color="#53dda7"/><stop offset="0.6125" stop-color="#51d1ba"/><stop offset="0.6131" stop-color="#53c4cc"/><stop offset="0.6137" stop-color="#51d1bb"/><stop offset="0.6142" stop-color="#53dca9"/><stop offset="0.6148" stop-color="#5ce88d"/><stop offset="0.6154" stop-color="#6cf365"/><stop offset="0.6160" stop-color="#8af455"/><stop offset="0.6165" stop-color="#6df462"/><stop offset="0.6171" stop-color="#5be790"/><stop offset="0.6177" stop-color="#53daad"/><stop offset="0.6183" stop-color="#51cdc1"/><stop offset="0.6188" stop-color="#55c0d0"/><stop offset="0.6194" stop-color="#52c4cc"/><stop offset="0.6200" stop-color="#50c9c7"/><stop offset="0.6206" stop-color="#51ccc2"/><stop offset="0.6211" stop-color="#51cfbe"/><stop offset="0.6217" stop-color="#52d2b8"/><stop offset="0.6223" stop-color="#53d9ae"/><stop offset="0.6228" stop-color="#54e0a3"/><stop offset="0.6234" stop-color="#5ce88d"/><stop offset="0.6240" stop-color="#5ee987"/><stop offset="0.6246" stop-color="#52d7b2"/><stop offset="0.6251" stop-color="#54c2ce"/><stop offset="0.6257" stop-color="#65a5eb"/><stop offset="0.6263" stop-color="#69a0f0"/><stop offset="0.6269" stop-color="#6aa0f0"/><stop offset="0.6274" stop-color="#6aa0f0"/><stop offset="0.6280" stop-color="#69a0f0"/><stop offset="0.6286" stop-color="#67a2ee"/><stop offset="0.6292" stop-color="#54c2ce"/><stop offset="0.6297" stop-color="#53d9ae"/><stop offset="0.6303" stop-color="#5ae692"/><stop offset="0.6309" stop-color="#52d2b9"/><stop offset="0.6315" stop-color="#52c5cb"/><stop offset="0.6320" stop-color="#53dbab"/><stop offset="0.6326" stop-color="#67ef72"/><stop offset="0.6332" stop-color="#66ef75"/><stop offset="0.6338" stop-color="#5de88b"/><stop offset="0.6343" stop-color="#54e2a0"/><stop offset="0.6349" stop-color="#53dbaa"/><stop offset="0.6355" stop-color="#52d5b4"/><stop offset="0.6361" stop-color="#51cfbd"/><stop offset="0.6366" stop-color="#51c7c9"/><stop offset="0.6372" stop-color="#58bbd5"/><stop offset="0.6378" stop-color="#5bb5db"/><stop offset="0.6383" stop-color="#5bb5db"/><stop offset="0.6389" stop-color="#5bb5db"/><stop offset="0.6395" stop-color="#5bb5db"/><stop offset="0.6401" stop-color="#58bad6"/><stop offset="0.6406" stop-color="#50c9c6"/><stop offset="0.6412" stop-color="#52d4b6"/><stop offset="0.6418" stop-color="#53dea6"/><stop offset="0.6424" stop-color="#5ee988"/><stop offset="0.6429" stop-color="#6df464"/><stop offset="0.6435" stop-color="#67ef72"/><stop offset="0.6441" stop-color="#61eb80"/><stop offset="0.6447" stop-color="#5be78f"/><stop offset="0.6452" stop-color="#55e39d"/><stop offset="0.6458" stop-color="#54dfa5"/><stop offset="0.6464" stop-color="#53dbab"/><stop offset="0.6470" stop-color="#53d9ae"/><stop offset="0.6475" stop-color="#52d6b2"/><stop offset="0.6481" stop-color="#52d4b5"/><stop offset="0.6487" stop-color="#52d2b8"/><stop offset="0.6493" stop-color="#51d0bb"/><stop offset="0.6498" stop-color="#51cfbe"/><stop offset="0.6504" stop-color="#52d3b6"/><stop offset="0.6510" stop-color="#52d8af"/><stop offset="0.6515" stop-color="#53dda8"/><stop offset="0.6521" stop-color="#54e2a1"/><stop offset="0.6527" stop-color="#5ae691"/><stop offset="0.6533" stop-color="#5ee989"/><stop offset="0.6538" stop-color="#55e39e"/><stop offset="0.6544" stop-color="#53dca9"/><stop offset="0.6550" stop-color="#52d6b2"/><stop offset="0.6556" stop-color="#51d0bb"/><stop offset="0.6561" stop-color="#52d5b3"/><stop offset="0.6567" stop-color="#54e0a4"/><stop offset="0.6573" stop-color="#5fea84"/><stop offset="0.6579" stop-color="#6ff55e"/><stop offset="0.6584" stop-color="#90f453"/><stop offset="0.6590" stop-color="#b2f149"/><stop offset="0.6596" stop-color="#ceee45"/><stop offset="0.6602" stop-color="#97f351"/><stop offset="0.6607" stop-color="#60eb82"/><stop offset="0.6613" stop-color="#52d3b7"/><stop offset="0.6619" stop-color="#58bad6"/><stop offset="0.6625" stop-color="#62abe5"/><stop offset="0.6630" stop-color="#68a0f0"/><stop offset="0.6636" stop-color="#68a0f0"/><stop offset="0.6642" stop-color="#63a9e7"/><stop offset="0.6648" stop-color="#57bcd4"/><stop offset="0.6653" stop-color="#51cdc0"/><stop offset="0.6659" stop-color="#53d9ad"/><stop offset="0.6665" stop-color="#54e1a2"/><stop offset="0.6670" stop-color="#59b8d8"/><stop offset="0.6676" stop-color="#6aa0f0"/><stop offset="0.6682" stop-color="#50cac5"/><stop offset="0.6688" stop-color="#a8f24c"/><stop offset="0.6693" stop-color="#b3f149"/><stop offset="0.6699" stop-color="#71f65c"/><stop offset="0.6705" stop-color="#6af26a"/><stop offset="0.6711" stop-color="#7af559"/><stop offset="0.6716" stop-color="#90f453"/><stop offset="0.6722" stop-color="#8ef453"/><stop offset="0.6728" stop-color="#82f557"/><stop offset="0.6734" stop-color="#76f65a"/><stop offset="0.6739" stop-color="#6ff55e"/><stop offset="0.6745" stop-color="#6cf365"/><stop offset="0.6751" stop-color="#69f16d"/><stop offset="0.6757" stop-color="#66ef74"/><stop offset="0.6762" stop-color="#65ee77"/><stop offset="0.6768" stop-color="#6bf268"/><stop offset="0.6774" stop-color="#72f65b"/><stop offset="0.6780" stop-color="#78f55a"/><stop offset="0.6785" stop-color="#70f65d"/><stop offset="0.6791" stop-color="#6bf367"/><stop offset="0.6797" stop-color="#6cf367"/><stop offset="0.6803" stop-color="#7ef558"/><stop offset="0.6808" stop-color="#95f352"/><stop offset="0.6814" stop-color="#abf14b"/><stop offset="0.6820" stop-color="#80f558"/><stop offset="0.6825" stop-color="#55e39e"/><stop offset="0.6831" stop-color="#50cbc4"/><stop offset="0.6837" stop-color="#64a7e9"/><stop offset="0.6843" stop-color="#69a0f0"/><stop offset="0.6848" stop-color="#68a0f0"/><stop offset="0.6854" stop-color="#5db2de"/><stop offset="0.6860" stop-color="#50cac5"/><stop offset="0.6866" stop-color="#53d9ad"/><stop offset="0.6871" stop-color="#5ee987"/><stop offset="0.6877" stop-color="#7bf559"/><stop offset="0.6883" stop-color="#a1f24e"/><stop offset="0.6889" stop-color="#bbf047"/><stop offset="0.6894" stop-color="#ceee45"/><stop offset="0.6900" stop-color="#e0eb44"/><stop offset="0.6906" stop-color="#f2e842"/><stop offset="0.6912" stop-color="#e5ea43"/><stop offset="0.6917" stop-color="#9ff24f"/><stop offset="0.6923" stop-color="#5de88a"/><stop offset="0.6929" stop-color="#51cdc0"/><stop offset="0.6935" stop-color="#58bad6"/><stop offset="0.6940" stop-color="#65a5eb"/><stop offset="0.6946" stop-color="#69a0f0"/><stop offset="0.6952" stop-color="#68a0f0"/><stop offset="0.6958" stop-color="#5cb4dc"/><stop offset="0.6963" stop-color="#51cdc0"/><stop offset="0.6969" stop-color="#54e0a4"/><stop offset="0.6975" stop-color="#65ee76"/><stop offset="0.6980" stop-color="#53daad"/><stop offset="0.6986" stop-color="#53c4cc"/><stop offset="0.6992" stop-color="#63a9e7"/><stop offset="0.6998" stop-color="#5bb6da"/><stop offset="0.7003" stop-color="#53c2ce"/><stop offset="0.7009" stop-color="#51cdc1"/><stop offset="0.7015" stop-color="#52d5b4"/><stop offset="0.7021" stop-color="#59b9d7"/><stop offset="0.7026" stop-color="#69a0f0"/><stop offset="0.7032" stop-color="#6ba0f0"/><stop offset="0.7038" stop-color="#6fa0ee"/><stop offset="0.7044" stop-color="#6da0ef"/><stop offset="0.7049" stop-color="#6ca0f0"/><stop offset="0.7055" stop-color="#69a0f0"/><stop offset="0.7061" stop-color="#54c1cf"/><stop offset="0.7067" stop-color="#6cf365"/><stop offset="0.7072" stop-color="#84f456"/><stop offset="0.7078" stop-color="#84f456"/><stop offset="0.7084" stop-color="#84f456"/><stop offset="0.7090" stop-color="#7ef558"/><stop offset="0.7095" stop-color="#66ef73"/><stop offset="0.7101" stop-color="#56e49a"/><stop offset="0.7107" stop-color="#54e0a4"/><stop offset="0.7113" stop-color="#77f55a"/><stop offset="0.7118" stop-color="#bff046"/><stop offset="0.7124" stop-color="#f2e842"/><stop offset="0.7130" stop-color="#f7e141"/><stop offset="0.7135" stop-color="#efe942"/><stop offset="0.7141" stop-color="#d8ec44"/><stop offset="0.7147" stop-color="#aff14a"/><stop offset="0.7153" stop-color="#69f16d"/><stop offset="0.7158" stop-color="#52d7b2"/><stop offset="0.7164" stop-color="#5ab7d9"/><stop offset="0.7170" stop-color="#69a0f0"/><stop offset="0.7176" stop-color="#6aa0f0"/><stop offset="0.7181" stop-color="#6aa0f0"/><stop offset="0.7187" stop-color="#69a0f0"/><stop offset="0.7193" stop-color="#68a0f0"/><stop offset="0.7199" stop-color="#59b8d8"/><stop offset="0.7204" stop-color="#51d1bb"/><stop offset="0.7210" stop-color="#56e49a"/><stop offset="0.7216" stop-color="#5de88a"/><stop offset="0.7222" stop-color="#53dfa5"/><stop offset="0.7227" stop-color="#52d5b4"/><stop offset="0.7233" stop-color="#52d5b4"/><stop offset="0.7239" stop-color="#53dbaa"/><stop offset="0.7245" stop-color="#54e1a1"/><stop offset="0.7250" stop-color="#5ce88d"/><stop offset="0.7256" stop-color="#65ee77"/><stop offset="0.7262" stop-color="#6ef462"/><stop offset="0.7268" stop-color="#6bf268"/><stop offset="0.7273" stop-color="#60eb82"/><stop offset="0.7279" stop-color="#56e39b"/><stop offset="0.7285" stop-color="#53dca9"/><stop offset="0.7290" stop-color="#54e1a1"/><stop offset="0.7296" stop-color="#5fea86"/><stop offset="0.7302" stop-color="#6af26a"/><stop offset="0.7308" stop-color="#68f070"/><stop offset="0.7313" stop-color="#61ec7f"/><stop offset="0.7319" stop-color="#5be78f"/><stop offset="0.7325" stop-color="#55e39e"/><stop offset="0.7331" stop-color="#52d7b1"/><stop offset="0.7336" stop-color="#51c7c9"/><stop offset="0.7342" stop-color="#60aee2"/><stop offset="0.7348" stop-color="#68a0f0"/><stop offset="0.7354" stop-color="#59b8d8"/><stop offset="0.7359" stop-color="#53dea6"/><stop offset="0.7365" stop-color="#8df454"/><stop offset="0.7371" stop-color="#51d0bc"/><stop offset="0.7377" stop-color="#68a0f0"/><stop offset="0.7382" stop-color="#60aee2"/><stop offset="0.7388" stop-color="#50c9c7"/><stop offset="0.7394" stop-color="#53daac"/><stop offset="0.7400" stop-color="#61ec80"/><stop offset="0.7405" stop-color="#6cf367"/><stop offset="0.7411" stop-color="#79f55a"/><stop offset="0.7417" stop-color="#8bf454"/><stop offset="0.7423" stop-color="#9df34f"/><stop offset="0.7428" stop-color="#aff14a"/><stop offset="0.7434" stop-color="#95f352"/><stop offset="0.7440" stop-color="#70f65d"/><stop offset="0.7445" stop-color="#5ee988"/><stop offset="0.7451" stop-color="#53dda8"/><stop offset="0.7457" stop-color="#52d2b9"/><stop offset="0.7463" stop-color="#53d9ae"/><stop offset="0.7468" stop-color="#54e0a4"/><stop offset="0.7474" stop-color="#5be790"/><stop offset="0.7480" stop-color="#58e596"/><stop offset="0.7486" stop-color="#53dbab"/><stop offset="0.7491" stop-color="#51d0bb"/><stop offset="0.7497" stop-color="#52c5cb"/><stop offset="0.7503" stop-color="#50c9c7"/><stop offset="0.7509" stop-color="#51cdc1"/><stop offset="0.7514" stop-color="#51d1ba"/><stop offset="0.7520" stop-color="#51d1ba"/><stop offset="0.7526" stop-color="#66a3ed"/><stop offset="0.7532" stop-color="#6aa0f0"/><stop offset="0.7537" stop-color="#6fa0ee"/><stop offset="0.7543" stop-color="#84a0e5"/><stop offset="0.7549" stop-color="#8da0e0"/><stop offset="0.7555" stop-color="#90a0dd"/><stop offset="0.7560" stop-color="#92a0db"/><stop offset="0.7566" stop-color="#8da0e0"/><stop offset="0.7572" stop-color="#55c0d0"/><stop offset="0.7577" stop-color="#e3eb43"/><stop offset="0.7583" stop-color="#b6f148"/><stop offset="0.7589" stop-color="#78f55a"/><stop offset="0.7595" stop-color="#57e499"/><stop offset="0.7600" stop-color="#54e2a0"/><stop offset="0.7606" stop-color="#5ce88c"/><stop offset="0.7612" stop-color="#64ee78"/><stop offset="0.7618" stop-color="#6df464"/><stop offset="0.7623" stop-color="#7bf559"/><stop offset="0.7629" stop-color="#8cf454"/><stop offset="0.7635" stop-color="#9df34f"/><stop offset="0.7641" stop-color="#a1f24e"/><stop offset="0.7646" stop-color="#84f456"/><stop offset="0.7652" stop-color="#6cf366"/><stop offset="0.7658" stop-color="#5ee988"/><stop offset="0.7664" stop-color="#54dfa4"/><stop offset="0.7669" stop-color="#52d6b3"/><stop offset="0.7675" stop-color="#51ccc2"/><stop offset="0.7681" stop-color="#55bfd1"/><stop offset="0.7687" stop-color="#5eb0e0"/><stop offset="0.7692" stop-color="#5fb0e0"/><stop offset="0.7698" stop-color="#52c4cc"/><stop offset="0.7704" stop-color="#52d3b8"/><stop offset="0.7710" stop-color="#54e0a3"/><stop offset="0.7715" stop-color="#64ed79"/><stop offset="0.7721" stop-color="#6ff55f"/><stop offset="0.7727" stop-color="#67f071"/><stop offset="0.7732" stop-color="#60eb83"/><stop offset="0.7738" stop-color="#58e595"/><stop offset="0.7744" stop-color="#54e0a3"/><stop offset="0.7750" stop-color="#53dbab"/><stop offset="0.7755" stop-color="#52d3b8"/><stop offset="0.7761" stop-color="#50cac4"/><stop offset="0.7767" stop-color="#55bfd1"/><stop offset="0.7773" stop-color="#5db3dd"/><stop offset="0.7778" stop-color="#5db2de"/><stop offset="0.7784" stop-color="#56bed2"/><stop offset="0.7790" stop-color="#50c9c6"/><stop offset="0.7796" stop-color="#51d1bb"/><stop offset="0.7801" stop-color="#52d8b0"/><stop offset="0.7807" stop-color="#53d8af"/><stop offset="0.7813" stop-color="#53d9ae"/><stop offset="0.7819" stop-color="#53daad"/><stop offset="0.7824" stop-color="#53daac"/><stop offset="0.7830" stop-color="#53daad"/><stop offset="0.7836" stop-color="#53d8af"/><stop offset="0.7842" stop-color="#52d7b1"/><stop offset="0.7847" stop-color="#52d6b3"/><stop offset="0.7853" stop-color="#52d6b3"/><stop offset="0.7859" stop-color="#53dbab"/><stop offset="0.7865" stop-color="#54e0a3"/><stop offset="0.7870" stop-color="#58e596"/><stop offset="0.7876" stop-color="#5fea84"/><stop offset="0.7882" stop-color="#67ef72"/><stop offset="0.7887" stop-color="#53dda7"/><stop offset="0.7893" stop-color="#52c5cb"/><stop offset="0.7899" stop-color="#68a0f0"/><stop offset="0.7905" stop-color="#68a1ef"/><stop offset="0.7910" stop-color="#62aae6"/><stop offset="0.7916" stop-color="#5cb4dc"/><stop offset="0.7922" stop-color="#58bad6"/><stop offset="0.7928" stop-color="#59b9d7"/><stop offset="0.7933" stop-color="#59b8d8"/><stop offset="0.7939" stop-color="#5ab8d8"/><stop offset="0.7945" stop-color="#5ab7d9"/><stop offset="0.7951" stop-color="#5bb6da"/><stop offset="0.7956" stop-color="#59b9d7"/><stop offset="0.7962" stop-color="#53c3cd"/><stop offset="0.7968" stop-color="#51ccc2"/><stop offset="0.7974" stop-color="#52d3b7"/><stop offset="0.7979" stop-color="#53daac"/><stop offset="0.7985" stop-color="#56bed2"/><stop offset="0.7991" stop-color="#68a0f0"/><stop offset="0.7997" stop-color="#6aa0f0"/><stop offset="0.8002" stop-color="#81a0e6"/><stop offset="0.8008" stop-color="#8ea0df"/><stop offset="0.8014" stop-color="#91a0dc"/><stop offset="0.8020" stop-color="#94a0d9"/><stop offset="0.8025" stop-color="#93a0da"/><stop offset="0.8031" stop-color="#8ea0df"/><stop offset="0.8037" stop-color="#6ba0f0"/><stop offset="0.8042" stop-color="#59e595"/><stop offset="0.8048" stop-color="#fcc93e"/><stop offset="0.8054" stop-color="#f8aa31"/><stop offset="0.8060" stop-color="#f8a831"/><stop offset="0.8065" stop-color="#f8a630"/><stop offset="0.8071" stop-color="#f8ad32"/><stop offset="0.8077" stop-color="#fbc83e"/><stop offset="0.8083" stop-color="#f7e141"/><stop offset="0.8088" stop-color="#cbee45"/><stop offset="0.8094" stop-color="#7bf559"/><stop offset="0.8100" stop-color="#6df463"/><stop offset="0.8106" stop-color="#69f16e"/><stop offset="0.8111" stop-color="#64ee78"/><stop offset="0.8117" stop-color="#51cdc1"/><stop offset="0.8123" stop-color="#57bcd4"/><stop offset="0.8129" stop-color="#59b8d8"/><stop offset="0.8134" stop-color="#59b9d7"/><stop offset="0.8140" stop-color="#52c5cb"/><stop offset="0.8146" stop-color="#51cebe"/><stop offset="0.8152" stop-color="#6ba0f0"/><stop offset="0.8157" stop-color="#8ca0e1"/><stop offset="0.8163" stop-color="#69a0f0"/><stop offset="0.8169" stop-color="#94f352"/><stop offset="0.8175" stop-color="#9af350"/><stop offset="0.8180" stop-color="#65ee77"/><stop offset="0.8186" stop-color="#51d0bb"/><stop offset="0.8192" stop-color="#68a0f0"/><stop offset="0.8197" stop-color="#6aa0f0"/><stop offset="0.8203" stop-color="#73f65b"/><stop offset="0.8209" stop-color="#7bf559"/><stop offset="0.8215" stop-color="#67ef72"/><stop offset="0.8220" stop-color="#67ef73"/><stop offset="0.8226" stop-color="#7bf559"/><stop offset="0.8232" stop-color="#58e596"/><stop offset="0.8238" stop-color="#51d0bb"/><stop offset="0.8243" stop-color="#59e594"/><stop offset="0.8249" stop-color="#82f557"/><stop offset="0.8255" stop-color="#6bf269"/><stop offset="0.8261" stop-color="#5de88b"/><stop offset="0.8266" stop-color="#53dfa5"/><stop offset="0.8272" stop-color="#52d7b1"/><stop offset="0.8278" stop-color="#51d0bc"/><stop offset="0.8284" stop-color="#50c9c6"/><stop offset="0.8289" stop-color="#55c0d0"/><stop offset="0.8295" stop-color="#5bb6da"/><stop offset="0.8301" stop-color="#61ace4"/><stop offset="0.8307" stop-color="#5db3dd"/><stop offset="0.8312" stop-color="#51c6ca"/><stop offset="0.8318" stop-color="#52d3b6"/><stop offset="0.8324" stop-color="#54e0a3"/><stop offset="0.8330" stop-color="#54e2a1"/><stop offset="0.8335" stop-color="#5fafe1"/><stop offset="0.8341" stop-color="#6aa0f0"/><stop offset="0.8347" stop-color="#6fa0ee"/><stop offset="0.8352" stop-color="#6ba0f0"/><stop offset="0.8358" stop-color="#6aa0f0"/><stop offset="0.8364" stop-color="#6aa0f0"/><stop offset="0.8370" stop-color="#6aa0f0"/><stop offset="0.8375" stop-color="#6aa0f0"/><stop offset="0.8381" stop-color="#6aa0f0"/><stop offset="0.8387" stop-color="#6aa0f0"/><stop offset="0.8393" stop-color="#6aa0f0"/><stop offset="0.8398" stop-color="#70a0ee"/><stop offset="0.8404" stop-color="#7da0e8"/><stop offset="0.8410" stop-color="#87a0e3"/><stop offset="0.8416" stop-color="#85a0e4"/><stop offset="0.8421" stop-color="#83a0e5"/><stop offset="0.8427" stop-color="#81a0e6"/><stop offset="0.8433" stop-color="#7fa0e7"/><stop offset="0.8439" stop-color="#7da0e8"/><stop offset="0.8444" stop-color="#72a0ed"/><stop offset="0.8450" stop-color="#6ba0f0"/><stop offset="0.8456" stop-color="#6aa0f0"/><stop offset="0.8462" stop-color="#69a0f0"/><stop offset="0.8467" stop-color="#6ba0f0"/><stop offset="0.8473" stop-color="#77a0ea"/><stop offset="0.8479" stop-color="#85a0e4"/><stop offset="0.8485" stop-color="#8ca0e1"/><stop offset="0.8490" stop-color="#8da0e0"/><stop offset="0.8496" stop-color="#8ca0e1"/><stop offset="0.8502" stop-color="#76a0eb"/><stop offset="0.8507" stop-color="#6aa0f0"/><stop offset="0.8513" stop-color="#68a0f0"/><stop offset="0.8519" stop-color="#6aa0f0"/><stop offset="0.8525" stop-color="#6ba0f0"/><stop offset="0.8530" stop-color="#74a0ec"/><stop offset="0.8536" stop-color="#6fa0ee"/><stop offset="0.8542" stop-color="#69a0f0"/><stop offset="0.8548" stop-color="#68a1ef"/><stop offset="0.8553" stop-color="#6aa0f0"/><stop offset="0.8559" stop-color="#74a0ec"/><stop offset="0.8565" stop-color="#78a0ea"/><stop offset="0.8571" stop-color="#7ca0e8"/><stop offset="0.8576" stop-color="#6ba0f0"/><stop offset="0.8582" stop-color="#91f353"/><stop offset="0.8588" stop-color="#f8a831"/><stop offset="0.8594" stop-color="#f78629"/><stop offset="0.8599" stop-color="#f8972d"/><stop offset="0.8605" stop-color="#f89e2f"/><stop offset="0.8611" stop-color="#f89b2e"/><stop offset="0.8617" stop-color="#f8a530"/><stop offset="0.8622" stop-color="#f9d941"/><stop offset="0.8628" stop-color="#61eb80"/><stop offset="0.8634" stop-color="#69a0f0"/><stop offset="0.8639" stop-color="#6aa0f0"/><stop offset="0.8645" stop-color="#5de98a"/><stop offset="0.8651" stop-color="#fbc93e"/><stop offset="0.8657" stop-color="#f89a2d"/><stop offset="0.8662" stop-color="#f8a22f"/><stop offset="0.8668" stop-color="#f8a931"/><stop offset="0.8674" stop-color="#fabd39"/><stop offset="0.8680" stop-color="#f9d841"/><stop offset="0.8685" stop-color="#d3ed44"/><stop offset="0.8691" stop-color="#71f65c"/><stop offset="0.8697" stop-color="#52d2b8"/><stop offset="0.8703" stop-color="#67a1ef"/><stop offset="0.8708" stop-color="#68a0f0"/><stop offset="0.8714" stop-color="#54e1a1"/><stop offset="0.8720" stop-color="#d7ec44"/><stop offset="0.8726" stop-color="#fbc53c"/><stop offset="0.8731" stop-color="#fbc63d"/><stop offset="0.8737" stop-color="#c8ef45"/><stop offset="0.8743" stop-color="#52d5b3"/><stop offset="0.8749" stop-color="#5eb1df"/><stop offset="0.8754" stop-color="#51d1ba"/><stop offset="0.8760" stop-color="#53dea6"/><stop offset="0.8766" stop-color="#55c0d0"/><stop offset="0.8772" stop-color="#50c9c6"/><stop offset="0.8777" stop-color="#dbec44"/><stop offset="0.8783" stop-color="#f9b636"/><stop offset="0.8789" stop-color="#f8ac32"/><stop offset="0.8794" stop-color="#f8a731"/><stop offset="0.8800" stop-color="#f8a330"/><stop offset="0.8806" stop-color="#fbc73d"/><stop offset="0.8812" stop-color="#aff14a"/><stop offset="0.8817" stop-color="#55c0d0"/><stop offset="0.8823" stop-color="#6ba0f0"/><stop offset="0.8829" stop-color="#7da0e8"/><stop offset="0.8835" stop-color="#52c5cb"/><stop offset="0.8840" stop-color="#f7df41"/><stop offset="0.8846" stop-color="#f89d2e"/><stop offset="0.8852" stop-color="#f8922c"/><stop offset="0.8858" stop-color="#f8a430"/><stop offset="0.8863" stop-color="#f8a430"/><stop offset="0.8869" stop-color="#f8a12f"/><stop offset="0.8875" stop-color="#fbc73e"/><stop offset="0.8881" stop-color="#b7f148"/><stop offset="0.8886" stop-color="#50c8c7"/><stop offset="0.8892" stop-color="#6aa0f0"/><stop offset="0.8898" stop-color="#6aa0f0"/><stop offset="0.8904" stop-color="#52d4b6"/><stop offset="0.8909" stop-color="#cdee45"/><stop offset="0.8915" stop-color="#fbc23b"/><stop offset="0.8921" stop-color="#f89f2f"/><stop offset="0.8927" stop-color="#f8ae33"/><stop offset="0.8932" stop-color="#fad440"/><stop offset="0.8938" stop-color="#bcf046"/><stop offset="0.8944" stop-color="#53dcaa"/><stop offset="0.8949" stop-color="#68a0f0"/><stop offset="0.8955" stop-color="#6ba0f0"/><stop offset="0.8961" stop-color="#73a0ed"/><stop offset="0.8967" stop-color="#66a3ed"/><stop offset="0.8972" stop-color="#7af559"/><stop offset="0.8978" stop-color="#d0ed45"/><stop offset="0.8984" stop-color="#7af559"/><stop offset="0.8990" stop-color="#53daad"/><stop offset="0.8995" stop-color="#96f351"/><stop offset="0.9001" stop-color="#f7e141"/><stop offset="0.9007" stop-color="#fabb38"/><stop offset="0.9013" stop-color="#f7de41"/><stop offset="0.9018" stop-color="#c3ef46"/><stop offset="0.9024" stop-color="#f8ae33"/><stop offset="0.9030" stop-color="#f88b2a"/><stop offset="0.9036" stop-color="#f78128"/><stop offset="0.9041" stop-color="#f78629"/><stop offset="0.9047" stop-color="#f88b2a"/><stop offset="0.9053" stop-color="#f8972d"/><stop offset="0.9059" stop-color="#f8af33"/><stop offset="0.9064" stop-color="#f7e041"/><stop offset="0.9070" stop-color="#6cf366"/><stop offset="0.9076" stop-color="#64a7e9"/><stop offset="0.9082" stop-color="#6ca0f0"/><stop offset="0.9087" stop-color="#6aa0f0"/><stop offset="0.9093" stop-color="#5db2de"/><stop offset="0.9099" stop-color="#5de98a"/><stop offset="0.9104" stop-color="#ceee45"/><stop offset="0.9110" stop-color="#fbd040"/><stop offset="0.9116" stop-color="#f8ae33"/><stop offset="0.9122" stop-color="#f9b134"/><stop offset="0.9127" stop-color="#f9da41"/><stop offset="0.9133" stop-color="#c7ef45"/><stop offset="0.9139" stop-color="#76f65a"/><stop offset="0.9145" stop-color="#53dbab"/><stop offset="0.9150" stop-color="#57e499"/><stop offset="0.9156" stop-color="#c4ef46"/><stop offset="0.9162" stop-color="#fad541"/><stop offset="0.9168" stop-color="#f9b335"/><stop offset="0.9173" stop-color="#f89f2f"/><stop offset="0.9179" stop-color="#f9b837"/><stop offset="0.9185" stop-color="#f7e141"/><stop offset="0.9191" stop-color="#baf047"/><stop offset="0.9196" stop-color="#82f557"/><stop offset="0.9202" stop-color="#5ee988"/><stop offset="0.9208" stop-color="#52d6b2"/><stop offset="0.9214" stop-color="#54c1cf"/><stop offset="0.9219" stop-color="#a5f24d"/><stop offset="0.9225" stop-color="#fabd39"/><stop offset="0.9231" stop-color="#f8952c"/><stop offset="0.9237" stop-color="#f88b2a"/><stop offset="0.9242" stop-color="#f88a2a"/><stop offset="0.9248" stop-color="#f88f2b"/><stop offset="0.9254" stop-color="#f89e2f"/><stop offset="0.9259" stop-color="#fccc40"/><stop offset="0.9265" stop-color="#53dda7"/><stop offset="0.9271" stop-color="#6da0ef"/><stop offset="0.9277" stop-color="#88a0e3"/><stop offset="0.9282" stop-color="#6aa0f0"/><stop offset="0.9288" stop-color="#58bbd5"/><stop offset="0.9294" stop-color="#85f456"/><stop offset="0.9300" stop-color="#f8db41"/><stop offset="0.9305" stop-color="#f8ad32"/><stop offset="0.9311" stop-color="#f89b2e"/><stop offset="0.9317" stop-color="#fab937"/><stop offset="0.9323" stop-color="#ede943"/><stop offset="0.9328" stop-color="#59e694"/><stop offset="0.9334" stop-color="#68a0f0"/><stop offset="0.9340" stop-color="#74a0ec"/><stop offset="0.9346" stop-color="#60aee2"/><stop offset="0.9351" stop-color="#f6e442"/><stop offset="0.9357" stop-color="#f89c2e"/><stop offset="0.9363" stop-color="#f89b2e"/><stop offset="0.9369" stop-color="#fabe3a"/><stop offset="0.9374" stop-color="#d8ec44"/><stop offset="0.9380" stop-color="#53d9ae"/><stop offset="0.9386" stop-color="#69a0f0"/><stop offset="0.9392" stop-color="#64a7e9"/><stop offset="0.9397" stop-color="#53daac"/><stop offset="0.9403" stop-color="#95f352"/><stop offset="0.9409" stop-color="#f4e842"/><stop offset="0.9414" stop-color="#fbc83e"/><stop offset="0.9420" stop-color="#fabe3a"/><stop offset="0.9426" stop-color="#f7e142"/><stop offset="0.9432" stop-color="#fad541"/><stop offset="0.9437" stop-color="#fcce40"/><stop offset="0.9443" stop-color="#adf14b"/><stop offset="0.9449" stop-color="#51cbc3"/><stop offset="0.9455" stop-color="#68a0f0"/><stop offset="0.9460" stop-color="#6aa0f0"/><stop offset="0.9466" stop-color="#6ba0f0"/><stop offset="0.9472" stop-color="#69a0f0"/><stop offset="0.9478" stop-color="#68a0f0"/><stop offset="0.9483" stop-color="#6aa0f0"/><stop offset="0.9489" stop-color="#7fa0e7"/><stop offset="0.9495" stop-color="#8ea0df"/><stop offset="0.9501" stop-color="#91a0dc"/><stop offset="0.9506" stop-color="#94a0d9"/><stop offset="0.9512" stop-color="#90a0dd"/><stop offset="0.9518" stop-color="#6aa0f0"/><stop offset="0.9524" stop-color="#5ae790"/><stop offset="0.9529" stop-color="#68a0f0"/><stop offset="0.9535" stop-color="#67a1ef"/><stop offset="0.9541" stop-color="#5ae691"/><stop offset="0.9546" stop-color="#5ce88c"/><stop offset="0.9552" stop-color="#52c4cc"/><stop offset="0.9558" stop-color="#59b9d7"/><stop offset="0.9564" stop-color="#5ab7d9"/><stop offset="0.9569" stop-color="#5bb5db"/><stop offset="0.9575" stop-color="#50c9c7"/><stop offset="0.9581" stop-color="#53d9ae"/><stop offset="0.9587" stop-color="#51cfbe"/><stop offset="0.9592" stop-color="#5eb1df"/><stop offset="0.9598" stop-color="#62aae6"/><stop offset="0.9604" stop-color="#5fafe1"/><stop offset="0.9610" stop-color="#5cb4dc"/><stop offset="0.9615" stop-color="#50c8c8"/><stop offset="0.9621" stop-color="#53daac"/><stop offset="0.9627" stop-color="#53dda8"/><stop offset="0.9633" stop-color="#5ab7d9"/><stop offset="0.9638" stop-color="#69a0f0"/><stop offset="0.9644" stop-color="#67a2ee"/><stop offset="0.9650" stop-color="#51c6ca"/><stop offset="0.9656" stop-color="#53dfa5"/><stop offset="0.9661" stop-color="#fad641"/><stop offset="0.9667" stop-color="#f78228"/><stop offset="0.9673" stop-color="#f15921"/><stop offset="0.9679" stop-color="#f26223"/><stop offset="0.9684" stop-color="#f67f28"/><stop offset="0.9690" stop-color="#f8992d"/><stop offset="0.9696" stop-color="#fbd140"/><stop offset="0.9701" stop-color="#66ef74"/><stop offset="0.9707" stop-color="#69a0f0"/><stop offset="0.9713" stop-color="#8ba0e2"/><stop offset="0.9719" stop-color="#92a0db"/><stop offset="0.9724" stop-color="#90a0dd"/><stop offset="0.9730" stop-color="#8fa0de"/><stop offset="0.9736" stop-color="#8ea0df"/><stop offset="0.9742" stop-color="#8ea0df"/><stop offset="0.9747" stop-color="#8da0e0"/><stop offset="0.9753" stop-color="#8da0e0"/><stop offset="0.9759" stop-color="#8da0e0"/><stop offset="0.9765" stop-color="#8ea0df"/><stop offset="0.9770" stop-color="#8fa0de"/><stop offset="0.9776" stop-color="#8fa0de"/><stop offset="0.9782" stop-color="#8fa0de"/><stop offset="0.9788" stop-color="#8fa0de"/><stop offset="0.9793" stop-color="#5fafe1"/><stop offset="0.9799" stop-color="#fbc43c"/><stop offset="0.9805" stop-color="#f57927"/><stop offset="0.9811" stop-color="#ef4a1f"/><stop offset="0.9816" stop-color="#f36824"/><stop offset="0.9822" stop-color="#5ce88d"/><stop offset="0.9828" stop-color="#65a5eb"/><stop offset="0.9834" stop-color="#6ba0f0"/><stop offset="0.9839" stop-color="#89a0e2"/><stop offset="0.9845" stop-color="#8fa0de"/><stop offset="0.9851" stop-color="#8ca0e1"/><stop offset="0.9856" stop-color="#69a0f0"/><stop offset="0.9862" stop-color="#69a0f0"/><stop offset="0.9868" stop-color="#71a0ed"/><stop offset="0.9874" stop-color="#89a0e2"/><stop offset="0.9879" stop-color="#77a0ea"/><stop offset="0.9885" stop-color="#6ba0f0"/><stop offset="0.9891" stop-color="#69a0f0"/><stop offset="0.9897" stop-color="#69a0f0"/><stop offset="0.9902" stop-color="#84a0e5"/><stop offset="0.9908" stop-color="#8ea0df"/><stop offset="0.9914" stop-color="#8aa0e2"/><stop offset="0.9920" stop-color="#75a0eb"/><stop offset="0.9925" stop-color="#6aa0f0"/><stop offset="0.9931" stop-color="#6aa0f0"/><stop offset="0.9937" stop-color="#74a0ec"/><stop offset="0.9943" stop-color="#83a0e5"/><stop offset="0.9948" stop-color="#78a0ea"/><stop offset="0.9954" stop-color="#6aa0f0"/><stop offset="0.9960" stop-color="#6aa0f0"/><stop offset="0.9966" stop-color="#6da0ef"/><stop offset="0.9971" stop-color="#81a0e6"/><stop offset="0.9977" stop-color="#8da0e0"/><stop offset="0.9983" stop-color="#8fa0de"/><stop offset="0.9989" stop-color="#91a0dc"/><stop offset="0.9994" stop-color="#93a0da"/><stop offset="1.0000" stop-color="#96a0d7"/></linearGradient>
<pattern id="hp" patternUnits="userSpaceOnUse" width="6.58" height="20" patternTransform="rotate(-45)"><rect x="-1.06" y="0" width="2.1" height="20" fill="#a6a6a6"/><rect x="5.52" y="0" width="2.1" height="20" fill="#a6a6a6"/></pattern>
<clipPath id="topclip"><rect x="86" y="8" width="1742" height="49.5"/></clipPath>
</defs>
<rect x="86" y="8" width="1742" height="49.5" fill="#f3f3f3"/>
<g clip-path="url(#topclip)"><polygon points="86,57.5 86.4,57.2 88,45.8 90.3,49.7 93.7,48.5 98.3,46.7 105.2,46.2 107.5,47.4 110.9,53.1 112.1,46.2 114.4,48.5 120.1,46.2 123.5,47.4 129.3,45.8 141.9,46.9 144.2,49.7 148.7,48.5 151,52.7 153.3,46.9 159.1,46.9 162.5,44.6 167.1,46.2 177.4,46.7 180.8,33.6 183.1,32.5 186.6,40.5 188.8,46.9 193.4,46.9 199.2,48.5 203.7,49 208.3,39.4 211.8,39.4 217.5,39.4 224.4,35.9 231.2,39.4 240.4,39.4 242.7,45.1 243.8,38.2 249.6,39.4 254.2,49.7 261,46.2 265.6,45.8 272.5,52 279.4,47.4 283.9,45.1 288.5,40.5 290.8,46.2 294.3,46.2 296.6,37.1 305.7,40.5 311.4,38.9 318.3,38.2 320.6,41.7 325.2,38.2 332.1,38.2 337.8,40.5 342.4,48.5 350.4,48.5 359.6,47.4 365.3,49.7 368.7,53.1 371,44 375.6,46.7 382.5,46.7 384.8,35.9 389.4,38.2 394,40.5 400.8,39.4 412.3,39.4 423.7,38.2 427.2,47.4 429.4,37.1 431.7,47.4 438.6,46.2 442.1,49.7 446.6,45.1 452.4,41 455.8,44 458.1,48.5 469.5,50.8 471.8,53.1 476.4,37.1 483.3,38.9 487.9,40.5 503.9,39.4 517.7,38.9 518,38.9 521.5,48.5 526,53.8 531.8,48.5 538.6,46.2 544.4,44.4 547.8,45.8 551.2,42.1 554.7,44 560.4,49.7 563.9,48.5 568.4,37.1 570.7,39.4 578.7,39.4 584.5,38.2 589,39.8 601.7,38.9 606.2,39.4 610.8,47.4 615.4,48.5 617.7,49.7 620,44.4 625.7,50.8 631.4,44.4 634.9,49.7 640.6,50.8 645.2,46.2 652.1,44.4 654.4,38.9 659,39.4 670.4,39.8 677.3,41.7 686.4,38.9 693.3,54.3 697.4,31.4 700.2,44 703.6,53.1 709.4,48.5 718.5,47.4 724.2,45.1 732.3,49 739.1,41.2 742.6,41.7 749.5,48.5 752.9,50.8 755.2,47.4 758.6,50.8 771.2,45.8 779.3,42.8 787.3,47.4 794.1,48.5 799.9,41.7 807.9,49.7 822.8,45.8 830.8,49.7 841.1,41.7 846.8,48.5 853.7,49.7 860.6,45.8 865.2,50.4 869.7,44 881.2,42.8 890.4,45.1 899.5,44.4 913.3,45.1 924.8,42.8 933.9,41.7 940,43.5 956,42.8 960.6,47.4 961.8,38.9 964.1,44.4 970.9,44.4 972.5,39.4 974.4,43.5 985.8,44.4 1000.7,42.8 1008.7,44.4 1019,42.1 1025.9,42.1 1031.7,44.4 1034.6,53.1 1036.2,44 1047.7,42.8 1059.2,42.8 1061.4,45.8 1070.6,42.8 1080.9,44.4 1083.2,48.1 1085.5,42.8 1100.4,42.8 1109.6,41.2 1110.7,39.4 1113,45.1 1115.3,48.5 1116.4,40.5 1130.2,42.8 1157.7,42.8 1169.2,43.5 1178.3,48.1 1180.6,42.8 1203.5,44 1226.4,44 1235.6,41.2 1242.5,45.8 1247.1,46.9 1249.4,40.5 1250.5,42.8 1272.3,41.7 1278,46.7 1289.5,39.8 1295.2,46.2 1302.1,44 1311.2,49 1315.8,41.7 1327.3,40.5 1336.4,48.1 1343.3,44 1357,43.5 1366.2,46.7 1369.7,41.7 1374.8,43.3 1380.2,41.5 1382,43.3 1388,43.9 1396.4,44.5 1403.5,56.5 1405.6,37.9 1407.1,43.9 1416.1,41.5 1424.5,45.7 1431.1,43.1 1437.1,43.9 1439.5,45.1 1447.9,44.3 1458.6,43.1 1462.2,46.3 1464.6,45.1 1475.4,45.7 1476,43.3 1479,46.9 1483.8,57.7 1488.6,36.7 1491.6,36.1 1495.8,42.1 1499.4,45.1 1504.8,45.7 1506.6,53.5 1509.6,40.3 1513.7,48.7 1514.9,41.5 1519.1,43.3 1522.1,42.1 1531.7,45.7 1537.1,42.7 1539.5,48.7 1547.3,47.5 1550.9,50.3 1560.5,46.9 1565.3,52.7 1568.9,45.7 1571.3,50.5 1574.8,45.7 1576.6,49.9 1580.2,51.7 1583.2,27.2 1585,35.5 1586.2,34.3 1588,40.9 1591,50.5 1594,32.6 1595.2,36.7 1596.9,37.5 1597.6,37.3 1598.8,43.8 1601.9,47.5 1606.3,36.9 1608.1,38.8 1609.8,46.9 1611.9,43.8 1613.5,46.9 1615.6,38.1 1617.5,37.5 1620.6,35 1621.3,44.4 1624.4,51.3 1626.9,29.4 1628.1,35.6 1631.3,35.6 1632.5,44.4 1635.6,50 1640,35 1642.5,37.5 1646.3,50 1649.4,38.8 1650.6,44.4 1654.4,44.4 1655.6,36.9 1657.5,43.1 1660,28.8 1663.1,33.1 1668.1,49.4 1673.8,36.9 1675.6,43.1 1680,44.4 1683.8,35 1688.1,43.1 1691.9,44.4 1693.8,28.8 1695,35 1696.5,30.6 1701.9,56.9 1708.1,34.4 1713.1,50.6 1716.3,28.1 1720,48.1 1727.5,36.9 1730,39.4 1732.5,46.3 1736.9,47.5 1742.5,57.5 1745,40 1746.9,46.3 1749.4,41.9 1750.6,45 1757.5,45.6 1763.1,43.8 1764.4,46.9 1768.8,41.3 1771.6,12.5 1774.4,21.9 1778.8,56.3 1780,53.1 1785,51.3 1789.4,53.1 1793.1,37.5 1795.9,7.5 1797.8,37.5 1801.3,55 1803.5,41.9 1805,50.6 1809.8,45 1812.5,53.1 1814.4,46.9 1818.8,50 1820.6,45.6 1821.9,51.3 1826.9,56.9 1828,57.5" fill="#a4a4a4" stroke="none"/>
<polyline points="86.4,57.2 88,45.8 90.3,49.7 93.7,48.5 98.3,46.7 105.2,46.2 107.5,47.4 110.9,53.1 112.1,46.2 114.4,48.5 120.1,46.2 123.5,47.4 129.3,45.8 141.9,46.9 144.2,49.7 148.7,48.5 151,52.7 153.3,46.9 159.1,46.9 162.5,44.6 167.1,46.2 177.4,46.7 180.8,33.6 183.1,32.5 186.6,40.5 188.8,46.9 193.4,46.9 199.2,48.5 203.7,49 208.3,39.4 211.8,39.4 217.5,39.4 224.4,35.9 231.2,39.4 240.4,39.4 242.7,45.1 243.8,38.2 249.6,39.4 254.2,49.7 261,46.2 265.6,45.8 272.5,52 279.4,47.4 283.9,45.1 288.5,40.5 290.8,46.2 294.3,46.2 296.6,37.1 305.7,40.5 311.4,38.9 318.3,38.2 320.6,41.7 325.2,38.2 332.1,38.2 337.8,40.5 342.4,48.5 350.4,48.5 359.6,47.4 365.3,49.7 368.7,53.1 371,44 375.6,46.7 382.5,46.7 384.8,35.9 389.4,38.2 394,40.5 400.8,39.4 412.3,39.4 423.7,38.2 427.2,47.4 429.4,37.1 431.7,47.4 438.6,46.2 442.1,49.7 446.6,45.1 452.4,41 455.8,44 458.1,48.5 469.5,50.8 471.8,53.1 476.4,37.1 483.3,38.9 487.9,40.5 503.9,39.4 517.7,38.9 518,38.9 521.5,48.5 526,53.8 531.8,48.5 538.6,46.2 544.4,44.4 547.8,45.8 551.2,42.1 554.7,44 560.4,49.7 563.9,48.5 568.4,37.1 570.7,39.4 578.7,39.4 584.5,38.2 589,39.8 601.7,38.9 606.2,39.4 610.8,47.4 615.4,48.5 617.7,49.7 620,44.4 625.7,50.8 631.4,44.4 634.9,49.7 640.6,50.8 645.2,46.2 652.1,44.4 654.4,38.9 659,39.4 670.4,39.8 677.3,41.7 686.4,38.9 693.3,54.3 697.4,31.4 700.2,44 703.6,53.1 709.4,48.5 718.5,47.4 724.2,45.1 732.3,49 739.1,41.2 742.6,41.7 749.5,48.5 752.9,50.8 755.2,47.4 758.6,50.8 771.2,45.8 779.3,42.8 787.3,47.4 794.1,48.5 799.9,41.7 807.9,49.7 822.8,45.8 830.8,49.7 841.1,41.7 846.8,48.5 853.7,49.7 860.6,45.8 865.2,50.4 869.7,44 881.2,42.8 890.4,45.1 899.5,44.4 913.3,45.1 924.8,42.8 933.9,41.7 940,43.5 956,42.8 960.6,47.4 961.8,38.9 964.1,44.4 970.9,44.4 972.5,39.4 974.4,43.5 985.8,44.4 1000.7,42.8 1008.7,44.4 1019,42.1 1025.9,42.1 1031.7,44.4 1034.6,53.1 1036.2,44 1047.7,42.8 1059.2,42.8 1061.4,45.8 1070.6,42.8 1080.9,44.4 1083.2,48.1 1085.5,42.8 1100.4,42.8 1109.6,41.2 1110.7,39.4 1113,45.1 1115.3,48.5 1116.4,40.5 1130.2,42.8 1157.7,42.8 1169.2,43.5 1178.3,48.1 1180.6,42.8 1203.5,44 1226.4,44 1235.6,41.2 1242.5,45.8 1247.1,46.9 1249.4,40.5 1250.5,42.8 1272.3,41.7 1278,46.7 1289.5,39.8 1295.2,46.2 1302.1,44 1311.2,49 1315.8,41.7 1327.3,40.5 1336.4,48.1 1343.3,44 1357,43.5 1366.2,46.7 1369.7,41.7 1374.8,43.3 1380.2,41.5 1382,43.3 1388,43.9 1396.4,44.5 1403.5,56.5 1405.6,37.9 1407.1,43.9 1416.1,41.5 1424.5,45.7 1431.1,43.1 1437.1,43.9 1439.5,45.1 1447.9,44.3 1458.6,43.1 1462.2,46.3 1464.6,45.1 1475.4,45.7 1476,43.3 1479,46.9 1483.8,57.7 1488.6,36.7 1491.6,36.1 1495.8,42.1 1499.4,45.1 1504.8,45.7 1506.6,53.5 1509.6,40.3 1513.7,48.7 1514.9,41.5 1519.1,43.3 1522.1,42.1 1531.7,45.7 1537.1,42.7 1539.5,48.7 1547.3,47.5 1550.9,50.3 1560.5,46.9 1565.3,52.7 1568.9,45.7 1571.3,50.5 1574.8,45.7 1576.6,49.9 1580.2,51.7 1583.2,27.2 1585,35.5 1586.2,34.3 1588,40.9 1591,50.5 1594,32.6 1595.2,36.7 1596.9,37.5 1597.6,37.3 1598.8,43.8 1601.9,47.5 1606.3,36.9 1608.1,38.8 1609.8,46.9 1611.9,43.8 1613.5,46.9 1615.6,38.1 1617.5,37.5 1620.6,35 1621.3,44.4 1624.4,51.3 1626.9,29.4 1628.1,35.6 1631.3,35.6 1632.5,44.4 1635.6,50 1640,35 1642.5,37.5 1646.3,50 1649.4,38.8 1650.6,44.4 1654.4,44.4 1655.6,36.9 1657.5,43.1 1660,28.8 1663.1,33.1 1668.1,49.4 1673.8,36.9 1675.6,43.1 1680,44.4 1683.8,35 1688.1,43.1 1691.9,44.4 1693.8,28.8 1695,35 1696.5,30.6 1701.9,56.9 1708.1,34.4 1713.1,50.6 1716.3,28.1 1720,48.1 1727.5,36.9 1730,39.4 1732.5,46.3 1736.9,47.5 1742.5,57.5 1745,40 1746.9,46.3 1749.4,41.9 1750.6,45 1757.5,45.6 1763.1,43.8 1764.4,46.9 1768.8,41.3 1771.6,12.5 1774.4,21.9 1778.8,56.3 1780,53.1 1785,51.3 1789.4,53.1 1793.1,37.5 1795.9,7.5 1797.8,37.5 1801.3,55 1803.5,41.9 1805,50.6 1809.8,45 1812.5,53.1 1814.4,46.9 1818.8,50 1820.6,45.6 1821.9,51.3 1826.9,56.9" fill="none" stroke="#000" stroke-width="2" stroke-linejoin="round"/></g>
<polygon points="86,762.5 86,700 200,660 252,640.7 287,629 293.5,628.7 340.4,576.4 383,572 396,563.3 406.9,554.5 424.4,532.7 455,528.4 470,531.9 475.5,534 505,512.2 520.3,495.8 531.3,500.2 557.5,498.6 565.2,500.8 601.3,477.2 610,466.9 627.5,469.5 645,474.6 653.8,475.4 689.9,456.4 695.3,459.3 699.7,456.4 741.3,468 771.9,478.3 785,479.4 820,489.2 842,494.3 870.4,503.4 880,501.7 956.6,498 1033,496.3 1153.5,492.5 1241,493 1290,491.7 1315.8,495.2 1333,493.2 1398.9,493.2 1407.4,496.6 1473.3,496 1489,502.6 1496.2,499.7 1539.2,501.7 1582.2,513.2 1587.9,510.3 1600,506.5 1609.4,503.4 1620.5,500.2 1626.8,497 1642.5,490.8 1656.7,490.8 1664.6,479 1674,473.5 1681.9,468.8 1689.8,459.3 1697.7,444.4 1704,445.2 1710.3,437.3 1716.6,434.1 1721.3,428.6 1730.8,420 1737.1,420 1744.9,425.4 1770,427.8 1776.4,403.4 1792,414.4 1798.4,403.4 1814,412 1827,423 1828,762.5" fill="url(#hp)" stroke="none"/>
<polyline points="86,700 200,660 252,640.7 287,629 293.5,628.7 340.4,576.4 383,572 396,563.3 406.9,554.5 424.4,532.7 455,528.4 470,531.9 475.5,534 505,512.2 520.3,495.8 531.3,500.2 557.5,498.6 565.2,500.8 601.3,477.2 610,466.9 627.5,469.5 645,474.6 653.8,475.4 689.9,456.4 695.3,459.3 699.7,456.4 741.3,468 771.9,478.3 785,479.4 820,489.2 842,494.3 870.4,503.4 880,501.7 956.6,498 1033,496.3 1153.5,492.5 1241,493 1290,491.7 1315.8,495.2 1333,493.2 1398.9,493.2 1407.4,496.6 1473.3,496 1489,502.6 1496.2,499.7 1539.2,501.7 1582.2,513.2 1587.9,510.3 1600,506.5 1609.4,503.4 1620.5,500.2 1626.8,497 1642.5,490.8 1656.7,490.8 1664.6,479 1674,473.5 1681.9,468.8 1689.8,459.3 1697.7,444.4 1704,445.2 1710.3,437.3 1716.6,434.1 1721.3,428.6 1730.8,420 1737.1,420 1744.9,425.4 1770,427.8 1776.4,403.4 1792,414.4 1798.4,403.4 1814,412 1827,423" fill="none" stroke="#9a9a9a" stroke-width="2.5" stroke-linejoin="round"/>
<text x="94.5" y="583" font-size="16.6" letter-spacing="0.45" word-spacing="1.2" fill="#ff0000">Threshold Power</text>
<text x="94.5" y="108" font-size="16.6" letter-spacing="0.45" word-spacing="1.2" fill="#0000ff">Peak Power</text>
<polygon points="86,762.5 86,762 86.5,668 87.5,668.5 89,677.4 91.3,670 92.5,684.8 95.5,680.4 98.5,638.8 100.3,650.7 104.4,644.7 106.2,644.7 110.4,708.6 112.7,649.2 114.2,674.4 115.7,656.6 119.3,634.3 121.6,649.2 126.1,650.7 129.1,632.9 132,643.3 135,644.7 141,650.7 142.4,640.3 143.9,675.9 146.9,674.4 150.7,701.2 153.7,641.8 157.3,656.6 161.7,626.9 164.7,625.4 166.2,638.8 169.2,646.2 172.1,647.7 175.1,650.7 177.5,647.7 181.5,510 183,493 185,540 187,641.8 190.5,649.2 194.4,641.8 197.4,662.6 200.3,656.6 203.3,673 208.4,561.6 210.7,567.5 212.2,563 214.3,580.9 219.7,564.5 224.1,533.4 227.1,555.6 231.5,573.5 233,564.5 237.5,567.5 240.4,576.4 242.8,555.6 243.4,613.6 246.4,558.6 248.8,558.6 253.8,681.9 256.8,671.5 262.7,629.9 265.7,632.9 268.7,653.7 273.1,702.7 277.6,653.7 282,641.8 288.9,583.9 290.9,638.8 294.5,638.8 296.3,551.2 299.2,573.5 302.8,564.5 306.4,580.9 311.7,558.6 316.2,564.5 317.7,560.1 320.6,595.7 325.1,546.7 327.4,558.6 329.5,555.6 331.3,564.5 333.4,548.2 335.4,572 338.4,575 342.3,674.4 345.2,662.6 349.7,653.7 353.3,675.9 356.2,662.6 360.1,655.1 364.5,665.5 368.1,707.1 371.1,624 373.5,650.7 376.4,647.7 377.9,653.7 380.9,647.7 383,644.7 384.7,542.3 386.8,564.5 391.3,545.2 394.3,588.3 396.6,570.5 400.2,558.6 403.2,573.5 406.1,561.6 409.1,579.4 412.1,564.5 416.5,576.4 419.5,566 423.4,552.7 426.9,644.7 429.3,563 431.4,668.5 435.2,674.4 438.8,643.3 441.8,680.4 444.7,662.6 448.3,624 452.2,580.9 455.1,597.2 458.1,659.6 462.6,681.9 465.5,689.3 468.5,674.4 471.5,707.1 475.9,540.8 478.9,552.7 481.9,549.7 484.8,558.6 489.3,588.3 492.3,566 495.2,576.4 498.2,569 502.7,576.4 506.5,554.2 510.1,561.6 514.5,557.1 517.5,576.4 518.4,558.6 520.5,686.3 526.4,724.9 532.4,668.5 536.8,647.7 539.8,638.8 544.2,621 548.7,647.7 551.7,601.7 554.6,612.1 559.8,681.9 561.9,664 563.4,665.5 565.4,583.9 569.3,543.8 572.3,567.5 575.2,576.4 578.8,585.3 583.3,555.6 586.2,574.9 588.6,576.4 591,567.5 593.1,577.9 595.1,570.5 596.9,574.9 601.1,558.6 604.1,586.8 607,566 610.9,644.7 613,659.6 616.8,668.5 618.9,684.8 621.3,624 626.6,692.3 631.7,624 634.6,674.4 637.6,690.8 640.6,690.8 645,644.7 649.5,618 652.5,641.8 655.4,561.6 658.4,557.1 662.9,574.9 665.8,567.5 667.3,577.9 671.8,570.5 674.7,572 677.7,597.2 685.1,558.6 688.1,574.9 692.6,724.9 697.6,500 701.5,653.7 703.8,716 708.9,674.4 712.8,664 716.3,665.5 720.8,635.8 723.7,622.5 729.7,665.5 733.5,667 739.2,583.9 742.5,594.3 744.5,626.9 748.4,671.5 751.4,698.2 754,647.7 757,687.8 758.8,695.2 765.3,650.7 771.3,638.8 779.3,604.6 784.6,638.8 788.3,667 793.4,655.1 796.3,684.8 800.2,609.1 802.3,659.6 804.4,653.7 806.7,681.9 811.2,678.9 817.1,659.6 823.1,631.4 826,640.3 829,670.5 832.9,681.9 834.9,656.6 840.9,598.7 843.9,662.6 846.8,684.8 848.9,638.8 851.3,678.9 854.3,680.4 856.6,643.3 859.6,634.3 862.6,664 863.8,626.9 866.1,681.9 869.1,653.7 871.5,612.1 875.6,604.6 878,615 882.5,600.2 885.4,612.1 889.9,597.2 892.3,629.9 895.8,622.5 901.8,624 907.7,616.5 913.7,637.3 917.2,631.4 924,607.6 928.5,632.9 933.8,595.7 939.8,624 944.8,607.6 950.8,604.6 956.7,615 961.2,653.7 962.1,574.9 964.7,624 970.1,622.5 972.5,646.2 973.6,574.9 977.5,616.5 984.9,618 987.9,625.4 992.4,606.1 995.3,619.5 1000.4,600.2 1004.2,622.5 1008.7,609.1 1013.1,631.4 1018.9,600.2 1021.9,607.6 1025.4,595.7 1028.4,616.5 1031.4,615 1035.2,698.2 1038.2,610.6 1042.7,606.1 1046.2,595.7 1048.6,609.1 1053.1,601.7 1056.9,612.1 1059,600.2 1061.1,638.8 1066.4,606.1 1069.4,615 1072.4,609.1 1078.3,618 1082.8,658.1 1085.7,606.1 1091.7,595.7 1094.6,624 1099.1,615 1105,621 1108,612.1 1111,576.4 1115.4,667 1116.9,583.9 1121.4,598.7 1125.8,603.2 1130.3,628.4 1133.3,603.2 1137.7,615 1141.3,609.1 1146.6,618 1150.2,606.1 1154,628.4 1159.1,600.2 1163.8,629.9 1168.9,622.5 1172.8,609.1 1178.7,662.6 1183.8,610.6 1185.8,629.9 1188.2,606.1 1194.1,624 1196.5,632.9 1200.7,632.9 1206,606.1 1212,618 1217.9,624 1223.8,610.6 1228.3,624 1231.3,609.1 1235.1,588.3 1238.7,629.9 1241.7,644.7 1246.1,618 1247.4,613.6 1248.9,659.6 1251.3,586.8 1253.4,609.1 1256.3,598.7 1259.3,604.6 1263.8,609.1 1266.7,603.2 1269.7,607.6 1273.3,594.3 1278,649.2 1284.6,598.7 1289.6,577.9 1292.9,624 1296.4,647.7 1300.9,607.6 1303.9,637.3 1308.3,619.5 1311.3,671.5 1314.3,668.5 1317.2,601.7 1320.8,601.7 1323.8,618 1327.6,573.5 1330.6,589.8 1336.5,664 1342.5,609.1 1345.4,622.5 1351.4,604.6 1355.2,618 1358.2,606.1 1362.4,615 1366.2,644.7 1369.2,597.2 1370.7,646.2 1375.1,609.1 1380.2,594.3 1384.9,622.5 1388.5,610.6 1392.1,628.4 1395.9,621 1403.4,741.3 1405.7,580.9 1409.3,616.5 1416.7,595.7 1425.6,637.3 1430.7,604.6 1436,618 1440.5,635.8 1444.9,619.5 1449.4,618 1453.8,621 1459.2,607.6 1462.2,641.8 1465.7,631.4 1471.7,632.9 1476.1,618 1478.3,647.7 1483.4,759.1 1485.4,695.2 1488.4,540.8 1491.4,531.9 1493.2,564.5 1496.1,604.6 1499.1,609.1 1500.3,629.9 1502.7,632.9 1505,624 1506.8,702.7 1509.2,589.8 1511.6,615 1514,662.6 1515.1,598.7 1517.5,610.6 1519,603.2 1521.1,624 1522.9,601.7 1526.4,618 1532.4,637.3 1536.8,610.6 1539.8,671.5 1544.2,653.7 1547.8,659.6 1550.8,689.3 1556.1,681.9 1559.7,647.7 1562.7,686.3 1565.6,701.2 1568.9,643.3 1572.5,680.4 1574.8,635.8 1576.9,674.4 1579.7,682.8 1582.9,478.3 1584.4,525.5 1586.6,516.1 1590.7,676.5 1593.9,516.1 1596.4,542.8 1602.7,651.4 1606.5,544.4 1609.6,638.8 1611.8,613.6 1613.7,638.8 1615.9,549.1 1619.1,528.7 1623.8,692.3 1627.5,494.1 1629.1,533.4 1631,527.1 1635.4,673.4 1640.1,520.8 1646.7,684.4 1649.6,582.2 1652.1,619.9 1655.2,547.5 1656.8,601 1659.7,461 1662.9,509.8 1668.2,675 1674.5,531.8 1676.4,582.2 1679.5,624.6 1684,524 1686.5,588.5 1691.2,631 1694.3,497.2 1696.5,490.9 1698.4,531.8 1701.6,701.7 1707.9,516.1 1713.2,681.3 1716.4,497.2 1717.9,550.7 1721.1,654.5 1726.7,547.5 1728,575.9 1729.9,561.7 1732.1,628.5 1734.7,667 1737,641.4 1742.4,753.8 1744.9,609.2 1746.4,655.3 1748.4,601.7 1750.2,631.5 1753.2,633 1755.3,616.6 1757.3,637.4 1760.3,633 1762.7,612.2 1765.1,649.3 1768.6,609.2 1770.2,450 1771.3,309 1772.8,450 1774.6,549.7 1779,734 1781.1,710.2 1785,696.9 1788,711.7 1791,711.7 1793.5,520 1795.3,240 1796.5,500 1796.9,609.2 1801.3,725.1 1803.4,630 1805.8,693.9 1809.7,640.4 1811.7,711.7 1815.3,655.3 1818.3,689.4 1820.7,650.8 1828,757.8 1828,762 1828,762.5" fill="url(#pg)" stroke="none"/>
<polyline points="86,762 86.5,668 87.5,668.5 89,677.4 91.3,670 92.5,684.8 95.5,680.4 98.5,638.8 100.3,650.7 104.4,644.7 106.2,644.7 110.4,708.6 112.7,649.2 114.2,674.4 115.7,656.6 119.3,634.3 121.6,649.2 126.1,650.7 129.1,632.9 132,643.3 135,644.7 141,650.7 142.4,640.3 143.9,675.9 146.9,674.4 150.7,701.2 153.7,641.8 157.3,656.6 161.7,626.9 164.7,625.4 166.2,638.8 169.2,646.2 172.1,647.7 175.1,650.7 177.5,647.7 181.5,510 183,493 185,540 187,641.8 190.5,649.2 194.4,641.8 197.4,662.6 200.3,656.6 203.3,673 208.4,561.6 210.7,567.5 212.2,563 214.3,580.9 219.7,564.5 224.1,533.4 227.1,555.6 231.5,573.5 233,564.5 237.5,567.5 240.4,576.4 242.8,555.6 243.4,613.6 246.4,558.6 248.8,558.6 253.8,681.9 256.8,671.5 262.7,629.9 265.7,632.9 268.7,653.7 273.1,702.7 277.6,653.7 282,641.8 288.9,583.9 290.9,638.8 294.5,638.8 296.3,551.2 299.2,573.5 302.8,564.5 306.4,580.9 311.7,558.6 316.2,564.5 317.7,560.1 320.6,595.7 325.1,546.7 327.4,558.6 329.5,555.6 331.3,564.5 333.4,548.2 335.4,572 338.4,575 342.3,674.4 345.2,662.6 349.7,653.7 353.3,675.9 356.2,662.6 360.1,655.1 364.5,665.5 368.1,707.1 371.1,624 373.5,650.7 376.4,647.7 377.9,653.7 380.9,647.7 383,644.7 384.7,542.3 386.8,564.5 391.3,545.2 394.3,588.3 396.6,570.5 400.2,558.6 403.2,573.5 406.1,561.6 409.1,579.4 412.1,564.5 416.5,576.4 419.5,566 423.4,552.7 426.9,644.7 429.3,563 431.4,668.5 435.2,674.4 438.8,643.3 441.8,680.4 444.7,662.6 448.3,624 452.2,580.9 455.1,597.2 458.1,659.6 462.6,681.9 465.5,689.3 468.5,674.4 471.5,707.1 475.9,540.8 478.9,552.7 481.9,549.7 484.8,558.6 489.3,588.3 492.3,566 495.2,576.4 498.2,569 502.7,576.4 506.5,554.2 510.1,561.6 514.5,557.1 517.5,576.4 518.4,558.6 520.5,686.3 526.4,724.9 532.4,668.5 536.8,647.7 539.8,638.8 544.2,621 548.7,647.7 551.7,601.7 554.6,612.1 559.8,681.9 561.9,664 563.4,665.5 565.4,583.9 569.3,543.8 572.3,567.5 575.2,576.4 578.8,585.3 583.3,555.6 586.2,574.9 588.6,576.4 591,567.5 593.1,577.9 595.1,570.5 596.9,574.9 601.1,558.6 604.1,586.8 607,566 610.9,644.7 613,659.6 616.8,668.5 618.9,684.8 621.3,624 626.6,692.3 631.7,624 634.6,674.4 637.6,690.8 640.6,690.8 645,644.7 649.5,618 652.5,641.8 655.4,561.6 658.4,557.1 662.9,574.9 665.8,567.5 667.3,577.9 671.8,570.5 674.7,572 677.7,597.2 685.1,558.6 688.1,574.9 692.6,724.9 697.6,500 701.5,653.7 703.8,716 708.9,674.4 712.8,664 716.3,665.5 720.8,635.8 723.7,622.5 729.7,665.5 733.5,667 739.2,583.9 742.5,594.3 744.5,626.9 748.4,671.5 751.4,698.2 754,647.7 757,687.8 758.8,695.2 765.3,650.7 771.3,638.8 779.3,604.6 784.6,638.8 788.3,667 793.4,655.1 796.3,684.8 800.2,609.1 802.3,659.6 804.4,653.7 806.7,681.9 811.2,678.9 817.1,659.6 823.1,631.4 826,640.3 829,670.5 832.9,681.9 834.9,656.6 840.9,598.7 843.9,662.6 846.8,684.8 848.9,638.8 851.3,678.9 854.3,680.4 856.6,643.3 859.6,634.3 862.6,664 863.8,626.9 866.1,681.9 869.1,653.7 871.5,612.1 875.6,604.6 878,615 882.5,600.2 885.4,612.1 889.9,597.2 892.3,629.9 895.8,622.5 901.8,624 907.7,616.5 913.7,637.3 917.2,631.4 924,607.6 928.5,632.9 933.8,595.7 939.8,624 944.8,607.6 950.8,604.6 956.7,615 961.2,653.7 962.1,574.9 964.7,624 970.1,622.5 972.5,646.2 973.6,574.9 977.5,616.5 984.9,618 987.9,625.4 992.4,606.1 995.3,619.5 1000.4,600.2 1004.2,622.5 1008.7,609.1 1013.1,631.4 1018.9,600.2 1021.9,607.6 1025.4,595.7 1028.4,616.5 1031.4,615 1035.2,698.2 1038.2,610.6 1042.7,606.1 1046.2,595.7 1048.6,609.1 1053.1,601.7 1056.9,612.1 1059,600.2 1061.1,638.8 1066.4,606.1 1069.4,615 1072.4,609.1 1078.3,618 1082.8,658.1 1085.7,606.1 1091.7,595.7 1094.6,624 1099.1,615 1105,621 1108,612.1 1111,576.4 1115.4,667 1116.9,583.9 1121.4,598.7 1125.8,603.2 1130.3,628.4 1133.3,603.2 1137.7,615 1141.3,609.1 1146.6,618 1150.2,606.1 1154,628.4 1159.1,600.2 1163.8,629.9 1168.9,622.5 1172.8,609.1 1178.7,662.6 1183.8,610.6 1185.8,629.9 1188.2,606.1 1194.1,624 1196.5,632.9 1200.7,632.9 1206,606.1 1212,618 1217.9,624 1223.8,610.6 1228.3,624 1231.3,609.1 1235.1,588.3 1238.7,629.9 1241.7,644.7 1246.1,618 1247.4,613.6 1248.9,659.6 1251.3,586.8 1253.4,609.1 1256.3,598.7 1259.3,604.6 1263.8,609.1 1266.7,603.2 1269.7,607.6 1273.3,594.3 1278,649.2 1284.6,598.7 1289.6,577.9 1292.9,624 1296.4,647.7 1300.9,607.6 1303.9,637.3 1308.3,619.5 1311.3,671.5 1314.3,668.5 1317.2,601.7 1320.8,601.7 1323.8,618 1327.6,573.5 1330.6,589.8 1336.5,664 1342.5,609.1 1345.4,622.5 1351.4,604.6 1355.2,618 1358.2,606.1 1362.4,615 1366.2,644.7 1369.2,597.2 1370.7,646.2 1375.1,609.1 1380.2,594.3 1384.9,622.5 1388.5,610.6 1392.1,628.4 1395.9,621 1403.4,741.3 1405.7,580.9 1409.3,616.5 1416.7,595.7 1425.6,637.3 1430.7,604.6 1436,618 1440.5,635.8 1444.9,619.5 1449.4,618 1453.8,621 1459.2,607.6 1462.2,641.8 1465.7,631.4 1471.7,632.9 1476.1,618 1478.3,647.7 1483.4,759.1 1485.4,695.2 1488.4,540.8 1491.4,531.9 1493.2,564.5 1496.1,604.6 1499.1,609.1 1500.3,629.9 1502.7,632.9 1505,624 1506.8,702.7 1509.2,589.8 1511.6,615 1514,662.6 1515.1,598.7 1517.5,610.6 1519,603.2 1521.1,624 1522.9,601.7 1526.4,618 1532.4,637.3 1536.8,610.6 1539.8,671.5 1544.2,653.7 1547.8,659.6 1550.8,689.3 1556.1,681.9 1559.7,647.7 1562.7,686.3 1565.6,701.2 1568.9,643.3 1572.5,680.4 1574.8,635.8 1576.9,674.4 1579.7,682.8 1582.9,478.3 1584.4,525.5 1586.6,516.1 1590.7,676.5 1593.9,516.1 1596.4,542.8 1602.7,651.4 1606.5,544.4 1609.6,638.8 1611.8,613.6 1613.7,638.8 1615.9,549.1 1619.1,528.7 1623.8,692.3 1627.5,494.1 1629.1,533.4 1631,527.1 1635.4,673.4 1640.1,520.8 1646.7,684.4 1649.6,582.2 1652.1,619.9 1655.2,547.5 1656.8,601 1659.7,461 1662.9,509.8 1668.2,675 1674.5,531.8 1676.4,582.2 1679.5,624.6 1684,524 1686.5,588.5 1691.2,631 1694.3,497.2 1696.5,490.9 1698.4,531.8 1701.6,701.7 1707.9,516.1 1713.2,681.3 1716.4,497.2 1717.9,550.7 1721.1,654.5 1726.7,547.5 1728,575.9 1729.9,561.7 1732.1,628.5 1734.7,667 1737,641.4 1742.4,753.8 1744.9,609.2 1746.4,655.3 1748.4,601.7 1750.2,631.5 1753.2,633 1755.3,616.6 1757.3,637.4 1760.3,633 1762.7,612.2 1765.1,649.3 1768.6,609.2 1770.2,450 1771.3,309 1772.8,450 1774.6,549.7 1779,734 1781.1,710.2 1785,696.9 1788,711.7 1791,711.7 1793.5,520 1795.3,240 1796.5,500 1796.9,609.2 1801.3,725.1 1803.4,630 1805.8,693.9 1809.7,640.4 1811.7,711.7 1815.3,655.3 1818.3,689.4 1820.7,650.8 1828,757.8 1828,762" fill="none" stroke="#000" stroke-width="1.7" stroke-linejoin="miter" stroke-miterlimit="4"/>
<line x1="87" y1="593.9" x2="1828" y2="593.9" stroke="#ff0000" stroke-width="2.8" stroke-dasharray="13 13.4"/>
<line x1="86.7" y1="86.2" x2="1826" y2="86.2" stroke="#8a8af6" stroke-width="1.25" stroke-dasharray="5.3 4.6"/>
<polyline points="86,86 181,86.4 183.6,90 187,105.5 193.8,101.2 206.5,95 210.7,97 215.8,103 219.2,104.6 222.6,112 226,125.8 227.7,131 232.8,141 237.9,154.7 242,168 246.4,169 251.5,185 256.5,161.5 261.6,144.5 268.4,134.3 271.8,127.5 276.9,112.2 287.1,103.8 290.5,103.8 295.6,101.2 304,110.5 309.2,114 319.3,144.5 322.7,146.2 327.8,168.2 332.9,181.8 340.5,209.8 344.8,185.2 351.6,159.8 358.4,134.3 365.2,120.7 370.2,108.8 383.8,98.7 387.2,102 392.3,114.8 397.4,116.5 404.2,132.6 407.6,137.7 411,147.9 417.8,158 424.5,176.7 426.2,190.3 431.3,180.1 438.1,146.2 448.3,120.7 455.1,119.9 461.9,112.2 466.8,105.5 475.3,95 478.7,97 483.8,108.8 488,119.9 494,125.8 499,137.7 502.4,142.8 507.5,154.7 512.6,180.1 516,192 520.2,210.7 524.5,181.8 529.6,144.5 534.7,129.2 543.1,117.3 551.6,110.5 558.4,107.2 563.5,101.2 568.6,102 572,109.7 577.1,120.7 582.2,127.5 586.4,143.6 590.7,149.6 597.5,166.5 602.5,185.2 609.3,201.3 616.1,173.3 621.2,147.9 629.7,125.8 636.5,117.3 643.3,104.6 653.5,99.5 658.5,103.8 663.6,115.6 670.4,125.8 675.5,135.2 681.4,137.7 690.8,150.4 695.9,129.2 701,148.7 706,125.8 714.5,110.5 721.3,103.8 728.1,100.4 736.6,94.4 743.4,94.4 760,88 800,86.8 830,86 1488.8,85.6 1496,88 1502.5,88 1518.8,86.9 1580,85.6 1585,87.5 1588.9,96 1594.7,96 1599,110.5 1606.3,107.6 1610.7,116.3 1615,110.5 1618,112 1622.3,129.4 1628,122 1632.5,149.8 1638.3,136.7 1644,161.4 1650,141 1654.3,133.8 1658.7,130.9 1663,149.8 1666,213.7 1671.7,187.6 1677.6,216.6 1682,205 1687.7,254.4 1693.5,242.8 1699,305.8 1705,221 1710.6,271 1715.8,231.5 1720.3,269.4 1726.4,237.6 1732.4,257.3 1740,199.7 1746,143.6 1756.7,130 1768.2,117 1771.8,140.6 1777.9,317.9 1787,201.2 1793.6,142.1 1796.7,228.5 1802,180 1809.7,134.5 1817.3,114.8 1825.5,99.7 1826,99" fill="none" stroke="#c935fd" stroke-width="5.2" stroke-linejoin="round" stroke-linecap="butt"/>
<circle cx="1795.5" cy="236" r="9" fill="#0bef0b"/>
<line x1="86.1" y1="79.5" x2="86.1" y2="763" stroke="#000" stroke-width="1.8"/>
<line x1="1827.8" y1="79.5" x2="1827.8" y2="763" stroke="#000" stroke-width="1.7"/>
<line x1="85.2" y1="762.5" x2="1828.7" y2="762.5" stroke="#000" stroke-width="1.8"/>
<text x="76.6" y="142.8" text-anchor="end" font-size="23.8" letter-spacing="0.0" fill="#000" stroke="#000" stroke-width="0.35">1,000</text>
<text x="77.8" y="268.2" text-anchor="end" font-size="23.8" letter-spacing="1.2" fill="#000" stroke="#000" stroke-width="0.35">800</text>
<text x="77.8" y="394.1" text-anchor="end" font-size="23.8" letter-spacing="1.2" fill="#000" stroke="#000" stroke-width="0.35">600</text>
<text x="77.8" y="519.7" text-anchor="end" font-size="23.8" letter-spacing="1.2" fill="#000" stroke="#000" stroke-width="0.35">400</text>
<text x="77.8" y="645.1" text-anchor="end" font-size="23.8" letter-spacing="1.2" fill="#000" stroke="#000" stroke-width="0.35">200</text>
<text x="1836.3" y="87.7" font-size="23.8" letter-spacing="1.5" fill="#000" stroke="#000" stroke-width="0.35">200</text>
<text x="1836.3" y="156.0" font-size="23.8" letter-spacing="1.5" fill="#000" stroke="#000" stroke-width="0.35">180</text>
<text x="1836.3" y="224.3" font-size="23.8" letter-spacing="1.5" fill="#000" stroke="#000" stroke-width="0.35">160</text>
<text x="1836.3" y="292.6" font-size="23.8" letter-spacing="1.5" fill="#000" stroke="#000" stroke-width="0.35">140</text>
<text x="1836.3" y="360.9" font-size="23.8" letter-spacing="1.5" fill="#000" stroke="#000" stroke-width="0.35">120</text>
<text x="1836.3" y="429.2" font-size="23.8" letter-spacing="1.5" fill="#000" stroke="#000" stroke-width="0.35">100</text>
<text x="1836.3" y="497.5" font-size="23.8" letter-spacing="1.5" fill="#000" stroke="#000" stroke-width="0.35">80</text>
<text x="1836.3" y="565.8" font-size="23.8" letter-spacing="1.5" fill="#000" stroke="#000" stroke-width="0.35">60</text>
<text x="1836.3" y="634.1" font-size="23.8" letter-spacing="1.5" fill="#000" stroke="#000" stroke-width="0.35">40</text>
<text x="1836.3" y="702.4" font-size="23.8" letter-spacing="1.5" fill="#000" stroke="#000" stroke-width="0.35">20</text>
<text x="417.4" y="788.8" text-anchor="middle" font-size="23.8" letter-spacing="0.9" fill="#000" stroke="#000" stroke-width="0.35">30:00</text>
<text x="749.1" y="788.8" text-anchor="middle" font-size="23.8" letter-spacing="0.2" fill="#000" stroke="#000" stroke-width="0.35">01:00:00</text>
<text x="1081.1" y="788.8" text-anchor="middle" font-size="23.8" letter-spacing="0.2" fill="#000" stroke="#000" stroke-width="0.35">01:30:00</text>
<text x="1413.5" y="788.8" text-anchor="middle" font-size="23.8" letter-spacing="0.9" fill="#000" stroke="#000" stroke-width="0.35">02:00:00</text>
<text x="1743.5" y="788.8" text-anchor="middle" font-size="23.8" letter-spacing="0.9" fill="#000" stroke="#000" stroke-width="0.35">02:30:00</text>
</svg></body></html>
